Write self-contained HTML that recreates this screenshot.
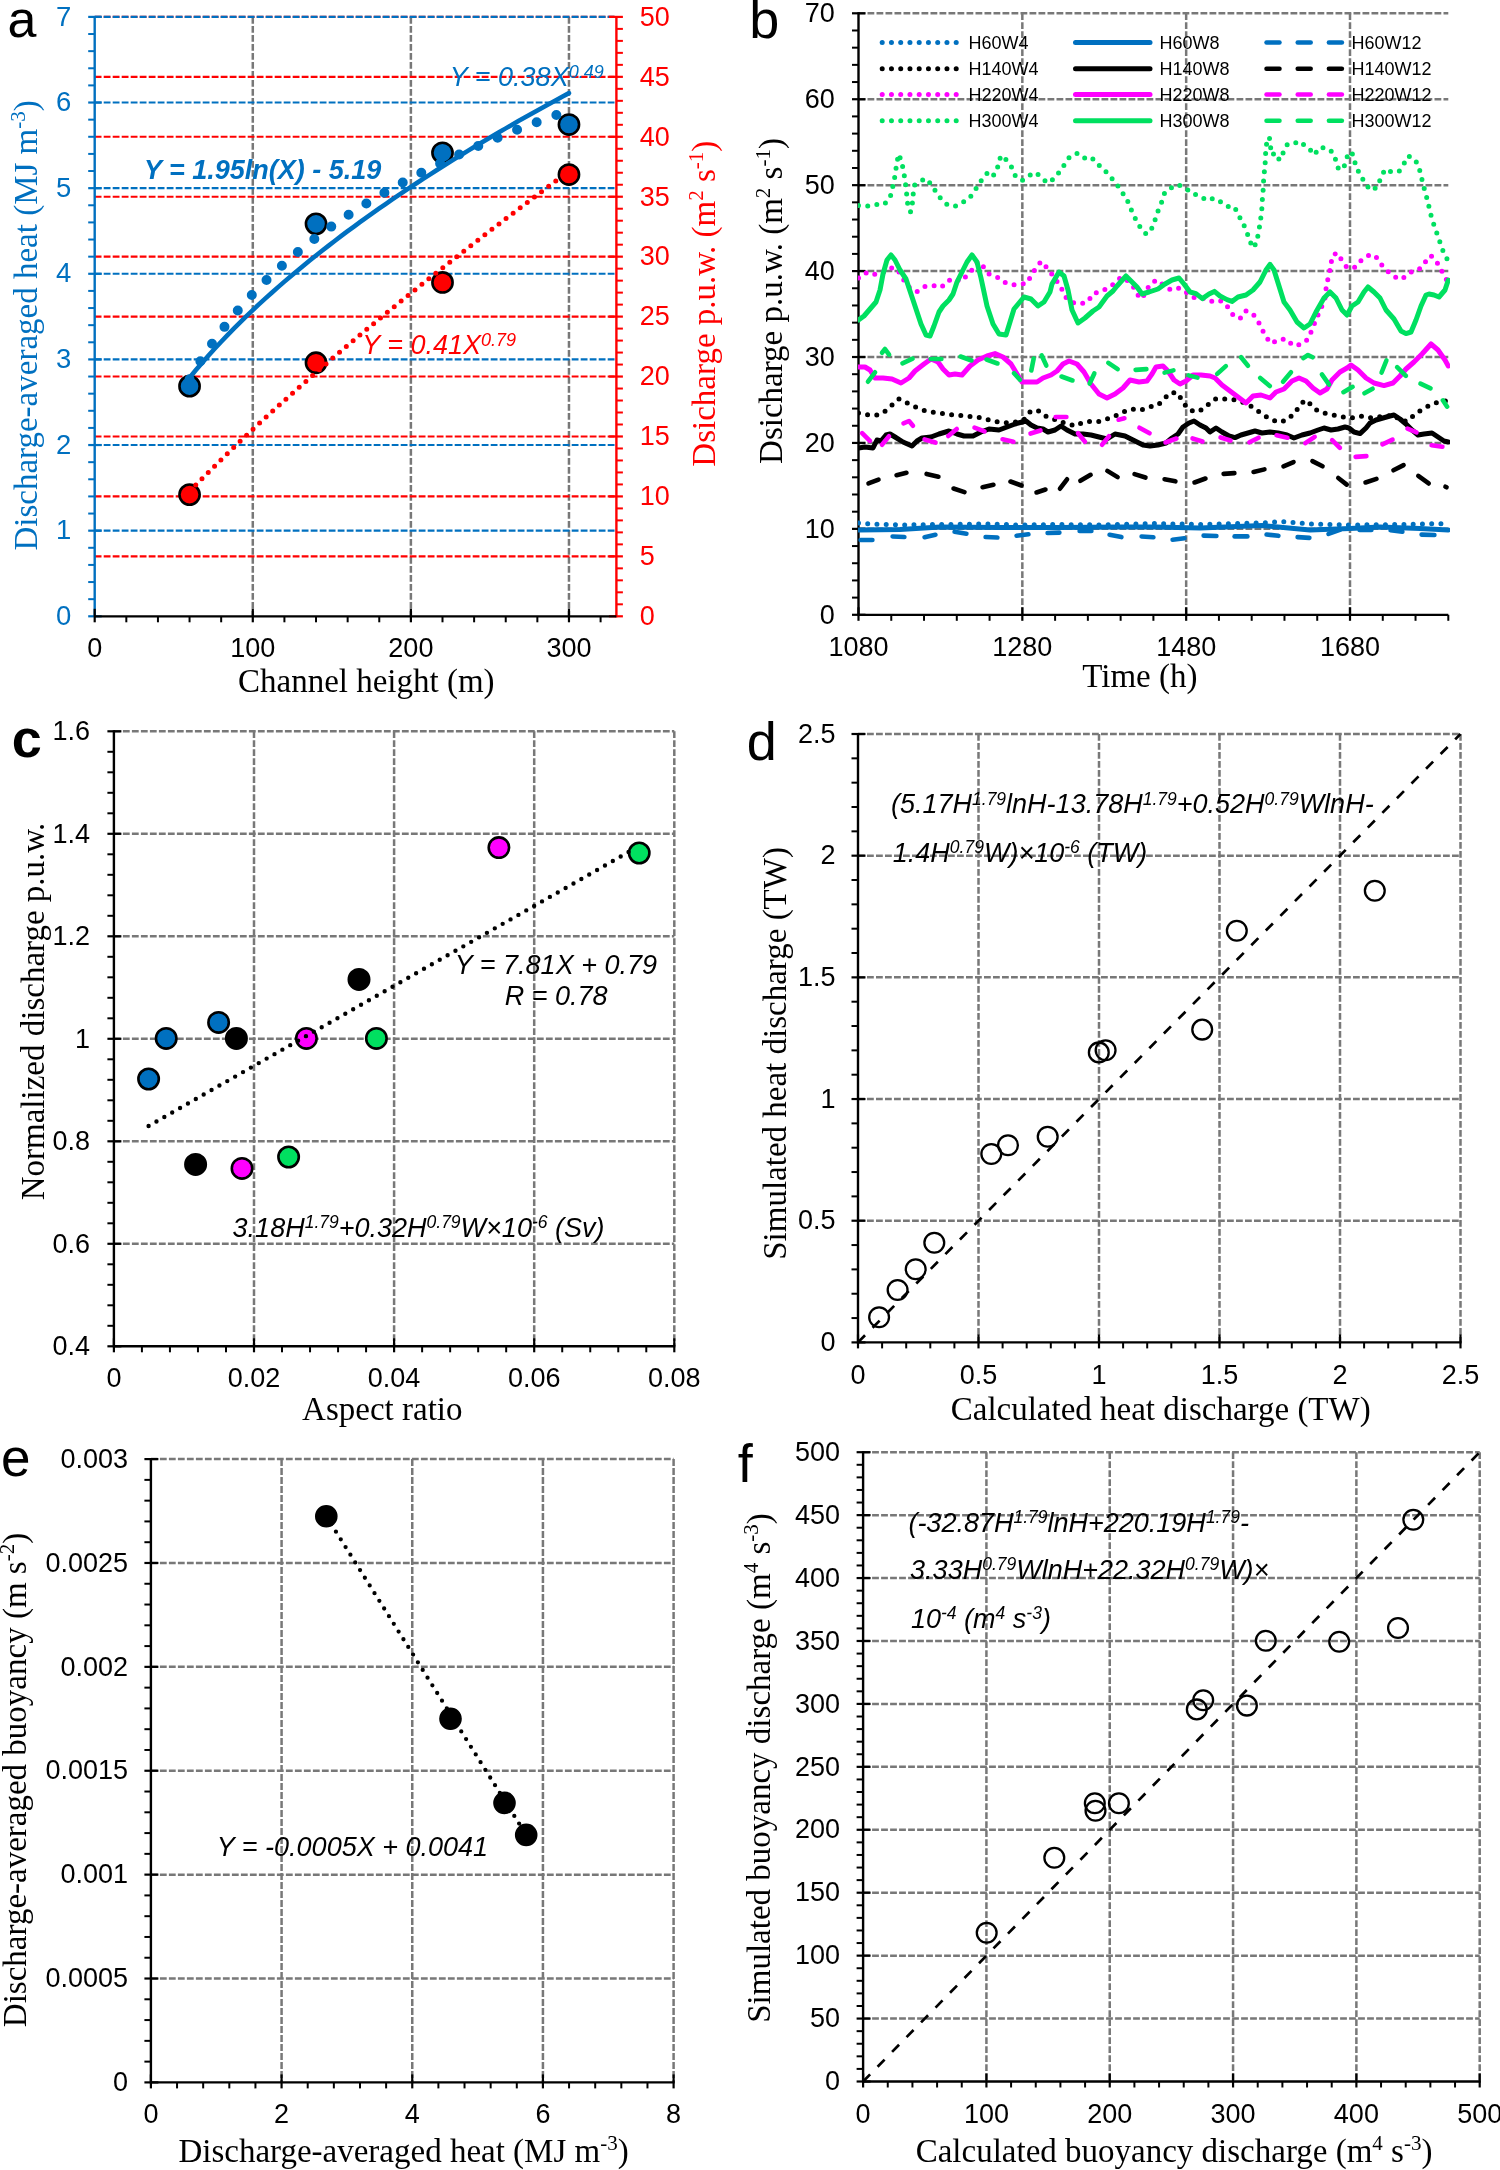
<!DOCTYPE html><html><head><meta charset="utf-8"><style>html,body{margin:0;padding:0;background:#fff;}svg{display:block;will-change:transform;}</style></head><body>
<svg width="1500" height="2170" viewBox="0 0 1500 2170">
<rect width="1500" height="2170" fill="#fff"/>
<line x1="252.79" y1="16.9" x2="252.79" y2="616.3" stroke="#787878" stroke-width="2.5" stroke-dasharray="6.8 2.2" stroke-linecap="butt"/>
<line x1="410.88" y1="16.9" x2="410.88" y2="616.3" stroke="#787878" stroke-width="2.5" stroke-dasharray="6.8 2.2" stroke-linecap="butt"/>
<line x1="568.97" y1="16.9" x2="568.97" y2="616.3" stroke="#787878" stroke-width="2.5" stroke-dasharray="6.8 2.2" stroke-linecap="butt"/>
<line x1="94.7" y1="556.36" x2="616.4" y2="556.36" stroke="#FF0000" stroke-width="2.1" stroke-dasharray="6.8 2.2" stroke-linecap="butt"/>
<line x1="94.7" y1="496.42" x2="616.4" y2="496.42" stroke="#FF0000" stroke-width="2.1" stroke-dasharray="6.8 2.2" stroke-linecap="butt"/>
<line x1="94.7" y1="436.48" x2="616.4" y2="436.48" stroke="#FF0000" stroke-width="2.1" stroke-dasharray="6.8 2.2" stroke-linecap="butt"/>
<line x1="94.7" y1="376.54" x2="616.4" y2="376.54" stroke="#FF0000" stroke-width="2.1" stroke-dasharray="6.8 2.2" stroke-linecap="butt"/>
<line x1="94.7" y1="316.6" x2="616.4" y2="316.6" stroke="#FF0000" stroke-width="2.1" stroke-dasharray="6.8 2.2" stroke-linecap="butt"/>
<line x1="94.7" y1="256.66" x2="616.4" y2="256.66" stroke="#FF0000" stroke-width="2.1" stroke-dasharray="6.8 2.2" stroke-linecap="butt"/>
<line x1="94.7" y1="196.72" x2="616.4" y2="196.72" stroke="#FF0000" stroke-width="2.1" stroke-dasharray="6.8 2.2" stroke-linecap="butt"/>
<line x1="94.7" y1="136.78" x2="616.4" y2="136.78" stroke="#FF0000" stroke-width="2.1" stroke-dasharray="6.8 2.2" stroke-linecap="butt"/>
<line x1="94.7" y1="76.84" x2="616.4" y2="76.84" stroke="#FF0000" stroke-width="2.1" stroke-dasharray="6.8 2.2" stroke-linecap="butt"/>
<line x1="94.7" y1="16.9" x2="616.4" y2="16.9" stroke="#FF0000" stroke-width="2.1" stroke-dasharray="6.8 2.2" stroke-linecap="butt"/>
<line x1="94.7" y1="530.67" x2="616.4" y2="530.67" stroke="#0070C0" stroke-width="2.1" stroke-dasharray="6.8 2.2" stroke-linecap="butt"/>
<line x1="94.7" y1="445.04" x2="616.4" y2="445.04" stroke="#0070C0" stroke-width="2.1" stroke-dasharray="6.8 2.2" stroke-linecap="butt"/>
<line x1="94.7" y1="359.41" x2="616.4" y2="359.41" stroke="#0070C0" stroke-width="2.1" stroke-dasharray="6.8 2.2" stroke-linecap="butt"/>
<line x1="94.7" y1="273.79" x2="616.4" y2="273.79" stroke="#0070C0" stroke-width="2.1" stroke-dasharray="6.8 2.2" stroke-linecap="butt"/>
<line x1="94.7" y1="188.16" x2="616.4" y2="188.16" stroke="#0070C0" stroke-width="2.1" stroke-dasharray="6.8 2.2" stroke-linecap="butt"/>
<line x1="94.7" y1="102.53" x2="616.4" y2="102.53" stroke="#0070C0" stroke-width="2.1" stroke-dasharray="6.8 2.2" stroke-linecap="butt"/>
<line x1="94.7" y1="16.9" x2="616.4" y2="16.9" stroke="#0070C0" stroke-width="2.1" stroke-dasharray="6.8 2.2" stroke-linecap="butt"/>
<line x1="94.7" y1="15.9" x2="94.7" y2="616.3" stroke="#0070C0" stroke-width="2.4" stroke-linecap="butt"/>
<line x1="616.4" y1="15.9" x2="616.4" y2="617.3" stroke="#FF0000" stroke-width="2.4" stroke-linecap="butt"/>
<line x1="88.2" y1="616.3" x2="101.7" y2="616.3" stroke="#0070C0" stroke-width="2.2" stroke-linecap="butt"/>
<line x1="88.2" y1="599.17" x2="94.7" y2="599.17" stroke="#0070C0" stroke-width="2" stroke-linecap="butt"/>
<line x1="88.2" y1="582.05" x2="94.7" y2="582.05" stroke="#0070C0" stroke-width="2" stroke-linecap="butt"/>
<line x1="88.2" y1="564.92" x2="94.7" y2="564.92" stroke="#0070C0" stroke-width="2" stroke-linecap="butt"/>
<line x1="88.2" y1="547.8" x2="94.7" y2="547.8" stroke="#0070C0" stroke-width="2" stroke-linecap="butt"/>
<line x1="88.2" y1="530.67" x2="101.7" y2="530.67" stroke="#0070C0" stroke-width="2.2" stroke-linecap="butt"/>
<line x1="88.2" y1="513.55" x2="94.7" y2="513.55" stroke="#0070C0" stroke-width="2" stroke-linecap="butt"/>
<line x1="88.2" y1="496.42" x2="94.7" y2="496.42" stroke="#0070C0" stroke-width="2" stroke-linecap="butt"/>
<line x1="88.2" y1="479.29" x2="94.7" y2="479.29" stroke="#0070C0" stroke-width="2" stroke-linecap="butt"/>
<line x1="88.2" y1="462.17" x2="94.7" y2="462.17" stroke="#0070C0" stroke-width="2" stroke-linecap="butt"/>
<line x1="88.2" y1="445.04" x2="101.7" y2="445.04" stroke="#0070C0" stroke-width="2.2" stroke-linecap="butt"/>
<line x1="88.2" y1="427.92" x2="94.7" y2="427.92" stroke="#0070C0" stroke-width="2" stroke-linecap="butt"/>
<line x1="88.2" y1="410.79" x2="94.7" y2="410.79" stroke="#0070C0" stroke-width="2" stroke-linecap="butt"/>
<line x1="88.2" y1="393.67" x2="94.7" y2="393.67" stroke="#0070C0" stroke-width="2" stroke-linecap="butt"/>
<line x1="88.2" y1="376.54" x2="94.7" y2="376.54" stroke="#0070C0" stroke-width="2" stroke-linecap="butt"/>
<line x1="88.2" y1="359.41" x2="101.7" y2="359.41" stroke="#0070C0" stroke-width="2.2" stroke-linecap="butt"/>
<line x1="88.2" y1="342.29" x2="94.7" y2="342.29" stroke="#0070C0" stroke-width="2" stroke-linecap="butt"/>
<line x1="88.2" y1="325.16" x2="94.7" y2="325.16" stroke="#0070C0" stroke-width="2" stroke-linecap="butt"/>
<line x1="88.2" y1="308.04" x2="94.7" y2="308.04" stroke="#0070C0" stroke-width="2" stroke-linecap="butt"/>
<line x1="88.2" y1="290.91" x2="94.7" y2="290.91" stroke="#0070C0" stroke-width="2" stroke-linecap="butt"/>
<line x1="88.2" y1="273.79" x2="101.7" y2="273.79" stroke="#0070C0" stroke-width="2.2" stroke-linecap="butt"/>
<line x1="88.2" y1="256.66" x2="94.7" y2="256.66" stroke="#0070C0" stroke-width="2" stroke-linecap="butt"/>
<line x1="88.2" y1="239.53" x2="94.7" y2="239.53" stroke="#0070C0" stroke-width="2" stroke-linecap="butt"/>
<line x1="88.2" y1="222.41" x2="94.7" y2="222.41" stroke="#0070C0" stroke-width="2" stroke-linecap="butt"/>
<line x1="88.2" y1="205.28" x2="94.7" y2="205.28" stroke="#0070C0" stroke-width="2" stroke-linecap="butt"/>
<line x1="88.2" y1="188.16" x2="101.7" y2="188.16" stroke="#0070C0" stroke-width="2.2" stroke-linecap="butt"/>
<line x1="88.2" y1="171.03" x2="94.7" y2="171.03" stroke="#0070C0" stroke-width="2" stroke-linecap="butt"/>
<line x1="88.2" y1="153.91" x2="94.7" y2="153.91" stroke="#0070C0" stroke-width="2" stroke-linecap="butt"/>
<line x1="88.2" y1="136.78" x2="94.7" y2="136.78" stroke="#0070C0" stroke-width="2" stroke-linecap="butt"/>
<line x1="88.2" y1="119.65" x2="94.7" y2="119.65" stroke="#0070C0" stroke-width="2" stroke-linecap="butt"/>
<line x1="88.2" y1="102.53" x2="101.7" y2="102.53" stroke="#0070C0" stroke-width="2.2" stroke-linecap="butt"/>
<line x1="88.2" y1="85.4" x2="94.7" y2="85.4" stroke="#0070C0" stroke-width="2" stroke-linecap="butt"/>
<line x1="88.2" y1="68.28" x2="94.7" y2="68.28" stroke="#0070C0" stroke-width="2" stroke-linecap="butt"/>
<line x1="88.2" y1="51.15" x2="94.7" y2="51.15" stroke="#0070C0" stroke-width="2" stroke-linecap="butt"/>
<line x1="88.2" y1="34.03" x2="94.7" y2="34.03" stroke="#0070C0" stroke-width="2" stroke-linecap="butt"/>
<line x1="88.2" y1="16.9" x2="101.7" y2="16.9" stroke="#0070C0" stroke-width="2.2" stroke-linecap="butt"/>
<line x1="608.9" y1="616.3" x2="622.9" y2="616.3" stroke="#FF0000" stroke-width="2.2" stroke-linecap="butt"/>
<line x1="616.4" y1="604.31" x2="622.9" y2="604.31" stroke="#FF0000" stroke-width="2" stroke-linecap="butt"/>
<line x1="616.4" y1="592.32" x2="622.9" y2="592.32" stroke="#FF0000" stroke-width="2" stroke-linecap="butt"/>
<line x1="616.4" y1="580.34" x2="622.9" y2="580.34" stroke="#FF0000" stroke-width="2" stroke-linecap="butt"/>
<line x1="616.4" y1="568.35" x2="622.9" y2="568.35" stroke="#FF0000" stroke-width="2" stroke-linecap="butt"/>
<line x1="608.9" y1="556.36" x2="622.9" y2="556.36" stroke="#FF0000" stroke-width="2.2" stroke-linecap="butt"/>
<line x1="616.4" y1="544.37" x2="622.9" y2="544.37" stroke="#FF0000" stroke-width="2" stroke-linecap="butt"/>
<line x1="616.4" y1="532.38" x2="622.9" y2="532.38" stroke="#FF0000" stroke-width="2" stroke-linecap="butt"/>
<line x1="616.4" y1="520.4" x2="622.9" y2="520.4" stroke="#FF0000" stroke-width="2" stroke-linecap="butt"/>
<line x1="616.4" y1="508.41" x2="622.9" y2="508.41" stroke="#FF0000" stroke-width="2" stroke-linecap="butt"/>
<line x1="608.9" y1="496.42" x2="622.9" y2="496.42" stroke="#FF0000" stroke-width="2.2" stroke-linecap="butt"/>
<line x1="616.4" y1="484.43" x2="622.9" y2="484.43" stroke="#FF0000" stroke-width="2" stroke-linecap="butt"/>
<line x1="616.4" y1="472.44" x2="622.9" y2="472.44" stroke="#FF0000" stroke-width="2" stroke-linecap="butt"/>
<line x1="616.4" y1="460.46" x2="622.9" y2="460.46" stroke="#FF0000" stroke-width="2" stroke-linecap="butt"/>
<line x1="616.4" y1="448.47" x2="622.9" y2="448.47" stroke="#FF0000" stroke-width="2" stroke-linecap="butt"/>
<line x1="608.9" y1="436.48" x2="622.9" y2="436.48" stroke="#FF0000" stroke-width="2.2" stroke-linecap="butt"/>
<line x1="616.4" y1="424.49" x2="622.9" y2="424.49" stroke="#FF0000" stroke-width="2" stroke-linecap="butt"/>
<line x1="616.4" y1="412.5" x2="622.9" y2="412.5" stroke="#FF0000" stroke-width="2" stroke-linecap="butt"/>
<line x1="616.4" y1="400.52" x2="622.9" y2="400.52" stroke="#FF0000" stroke-width="2" stroke-linecap="butt"/>
<line x1="616.4" y1="388.53" x2="622.9" y2="388.53" stroke="#FF0000" stroke-width="2" stroke-linecap="butt"/>
<line x1="608.9" y1="376.54" x2="622.9" y2="376.54" stroke="#FF0000" stroke-width="2.2" stroke-linecap="butt"/>
<line x1="616.4" y1="364.55" x2="622.9" y2="364.55" stroke="#FF0000" stroke-width="2" stroke-linecap="butt"/>
<line x1="616.4" y1="352.56" x2="622.9" y2="352.56" stroke="#FF0000" stroke-width="2" stroke-linecap="butt"/>
<line x1="616.4" y1="340.58" x2="622.9" y2="340.58" stroke="#FF0000" stroke-width="2" stroke-linecap="butt"/>
<line x1="616.4" y1="328.59" x2="622.9" y2="328.59" stroke="#FF0000" stroke-width="2" stroke-linecap="butt"/>
<line x1="608.9" y1="316.6" x2="622.9" y2="316.6" stroke="#FF0000" stroke-width="2.2" stroke-linecap="butt"/>
<line x1="616.4" y1="304.61" x2="622.9" y2="304.61" stroke="#FF0000" stroke-width="2" stroke-linecap="butt"/>
<line x1="616.4" y1="292.62" x2="622.9" y2="292.62" stroke="#FF0000" stroke-width="2" stroke-linecap="butt"/>
<line x1="616.4" y1="280.64" x2="622.9" y2="280.64" stroke="#FF0000" stroke-width="2" stroke-linecap="butt"/>
<line x1="616.4" y1="268.65" x2="622.9" y2="268.65" stroke="#FF0000" stroke-width="2" stroke-linecap="butt"/>
<line x1="608.9" y1="256.66" x2="622.9" y2="256.66" stroke="#FF0000" stroke-width="2.2" stroke-linecap="butt"/>
<line x1="616.4" y1="244.67" x2="622.9" y2="244.67" stroke="#FF0000" stroke-width="2" stroke-linecap="butt"/>
<line x1="616.4" y1="232.68" x2="622.9" y2="232.68" stroke="#FF0000" stroke-width="2" stroke-linecap="butt"/>
<line x1="616.4" y1="220.7" x2="622.9" y2="220.7" stroke="#FF0000" stroke-width="2" stroke-linecap="butt"/>
<line x1="616.4" y1="208.71" x2="622.9" y2="208.71" stroke="#FF0000" stroke-width="2" stroke-linecap="butt"/>
<line x1="608.9" y1="196.72" x2="622.9" y2="196.72" stroke="#FF0000" stroke-width="2.2" stroke-linecap="butt"/>
<line x1="616.4" y1="184.73" x2="622.9" y2="184.73" stroke="#FF0000" stroke-width="2" stroke-linecap="butt"/>
<line x1="616.4" y1="172.74" x2="622.9" y2="172.74" stroke="#FF0000" stroke-width="2" stroke-linecap="butt"/>
<line x1="616.4" y1="160.76" x2="622.9" y2="160.76" stroke="#FF0000" stroke-width="2" stroke-linecap="butt"/>
<line x1="616.4" y1="148.77" x2="622.9" y2="148.77" stroke="#FF0000" stroke-width="2" stroke-linecap="butt"/>
<line x1="608.9" y1="136.78" x2="622.9" y2="136.78" stroke="#FF0000" stroke-width="2.2" stroke-linecap="butt"/>
<line x1="616.4" y1="124.79" x2="622.9" y2="124.79" stroke="#FF0000" stroke-width="2" stroke-linecap="butt"/>
<line x1="616.4" y1="112.8" x2="622.9" y2="112.8" stroke="#FF0000" stroke-width="2" stroke-linecap="butt"/>
<line x1="616.4" y1="100.82" x2="622.9" y2="100.82" stroke="#FF0000" stroke-width="2" stroke-linecap="butt"/>
<line x1="616.4" y1="88.83" x2="622.9" y2="88.83" stroke="#FF0000" stroke-width="2" stroke-linecap="butt"/>
<line x1="608.9" y1="76.84" x2="622.9" y2="76.84" stroke="#FF0000" stroke-width="2.2" stroke-linecap="butt"/>
<line x1="616.4" y1="64.85" x2="622.9" y2="64.85" stroke="#FF0000" stroke-width="2" stroke-linecap="butt"/>
<line x1="616.4" y1="52.86" x2="622.9" y2="52.86" stroke="#FF0000" stroke-width="2" stroke-linecap="butt"/>
<line x1="616.4" y1="40.88" x2="622.9" y2="40.88" stroke="#FF0000" stroke-width="2" stroke-linecap="butt"/>
<line x1="616.4" y1="28.89" x2="622.9" y2="28.89" stroke="#FF0000" stroke-width="2" stroke-linecap="butt"/>
<line x1="608.9" y1="16.9" x2="622.9" y2="16.9" stroke="#FF0000" stroke-width="2.2" stroke-linecap="butt"/>
<line x1="94.7" y1="608.8" x2="94.7" y2="622.3" stroke="#000000" stroke-width="2.2" stroke-linecap="butt"/>
<line x1="126.32" y1="616.3" x2="126.32" y2="622.3" stroke="#000000" stroke-width="2" stroke-linecap="butt"/>
<line x1="157.94" y1="616.3" x2="157.94" y2="622.3" stroke="#000000" stroke-width="2" stroke-linecap="butt"/>
<line x1="189.55" y1="616.3" x2="189.55" y2="622.3" stroke="#000000" stroke-width="2" stroke-linecap="butt"/>
<line x1="221.17" y1="616.3" x2="221.17" y2="622.3" stroke="#000000" stroke-width="2" stroke-linecap="butt"/>
<line x1="252.79" y1="608.8" x2="252.79" y2="622.3" stroke="#000000" stroke-width="2.2" stroke-linecap="butt"/>
<line x1="284.41" y1="616.3" x2="284.41" y2="622.3" stroke="#000000" stroke-width="2" stroke-linecap="butt"/>
<line x1="316.03" y1="616.3" x2="316.03" y2="622.3" stroke="#000000" stroke-width="2" stroke-linecap="butt"/>
<line x1="347.65" y1="616.3" x2="347.65" y2="622.3" stroke="#000000" stroke-width="2" stroke-linecap="butt"/>
<line x1="379.26" y1="616.3" x2="379.26" y2="622.3" stroke="#000000" stroke-width="2" stroke-linecap="butt"/>
<line x1="410.88" y1="608.8" x2="410.88" y2="622.3" stroke="#000000" stroke-width="2.2" stroke-linecap="butt"/>
<line x1="442.5" y1="616.3" x2="442.5" y2="622.3" stroke="#000000" stroke-width="2" stroke-linecap="butt"/>
<line x1="474.12" y1="616.3" x2="474.12" y2="622.3" stroke="#000000" stroke-width="2" stroke-linecap="butt"/>
<line x1="505.74" y1="616.3" x2="505.74" y2="622.3" stroke="#000000" stroke-width="2" stroke-linecap="butt"/>
<line x1="537.35" y1="616.3" x2="537.35" y2="622.3" stroke="#000000" stroke-width="2" stroke-linecap="butt"/>
<line x1="568.97" y1="608.8" x2="568.97" y2="622.3" stroke="#000000" stroke-width="2.2" stroke-linecap="butt"/>
<line x1="600.59" y1="616.3" x2="600.59" y2="622.3" stroke="#000000" stroke-width="2" stroke-linecap="butt"/>
<line x1="94.7" y1="616.3" x2="616.4" y2="616.3" stroke="#000000" stroke-width="2.2" stroke-linecap="butt"/>
<text x="71.4" y="624.9" font-family="Liberation Sans" font-size="27.5" fill="#0070C0" text-anchor="end">0</text>
<text x="71.4" y="539.27" font-family="Liberation Sans" font-size="27.5" fill="#0070C0" text-anchor="end">1</text>
<text x="71.4" y="453.64" font-family="Liberation Sans" font-size="27.5" fill="#0070C0" text-anchor="end">2</text>
<text x="71.4" y="368.01" font-family="Liberation Sans" font-size="27.5" fill="#0070C0" text-anchor="end">3</text>
<text x="71.4" y="282.39" font-family="Liberation Sans" font-size="27.5" fill="#0070C0" text-anchor="end">4</text>
<text x="71.4" y="196.76" font-family="Liberation Sans" font-size="27.5" fill="#0070C0" text-anchor="end">5</text>
<text x="71.4" y="111.13" font-family="Liberation Sans" font-size="27.5" fill="#0070C0" text-anchor="end">6</text>
<text x="71.4" y="25.5" font-family="Liberation Sans" font-size="27.5" fill="#0070C0" text-anchor="end">7</text>
<text x="639.8" y="625.1" font-family="Liberation Sans" font-size="27" fill="#FF0000" text-anchor="start">0</text>
<text x="639.8" y="565.16" font-family="Liberation Sans" font-size="27" fill="#FF0000" text-anchor="start">5</text>
<text x="639.8" y="505.22" font-family="Liberation Sans" font-size="27" fill="#FF0000" text-anchor="start">10</text>
<text x="639.8" y="445.28" font-family="Liberation Sans" font-size="27" fill="#FF0000" text-anchor="start">15</text>
<text x="639.8" y="385.34" font-family="Liberation Sans" font-size="27" fill="#FF0000" text-anchor="start">20</text>
<text x="639.8" y="325.4" font-family="Liberation Sans" font-size="27" fill="#FF0000" text-anchor="start">25</text>
<text x="639.8" y="265.46" font-family="Liberation Sans" font-size="27" fill="#FF0000" text-anchor="start">30</text>
<text x="639.8" y="205.52" font-family="Liberation Sans" font-size="27" fill="#FF0000" text-anchor="start">35</text>
<text x="639.8" y="145.58" font-family="Liberation Sans" font-size="27" fill="#FF0000" text-anchor="start">40</text>
<text x="639.8" y="85.64" font-family="Liberation Sans" font-size="27" fill="#FF0000" text-anchor="start">45</text>
<text x="639.8" y="25.7" font-family="Liberation Sans" font-size="27" fill="#FF0000" text-anchor="start">50</text>
<text x="94.7" y="656.6" font-family="Liberation Sans" font-size="27" fill="#000000" text-anchor="middle">0</text>
<text x="252.79" y="656.6" font-family="Liberation Sans" font-size="27" fill="#000000" text-anchor="middle">100</text>
<text x="410.88" y="656.6" font-family="Liberation Sans" font-size="27" fill="#000000" text-anchor="middle">200</text>
<text x="568.97" y="656.6" font-family="Liberation Sans" font-size="27" fill="#000000" text-anchor="middle">300</text>
<text x="366.3" y="692" font-family="Liberation Serif" font-size="33" fill="#000000" text-anchor="middle">Channel height (m)</text>
<text x="37" y="325.4" font-family="Liberation Serif" font-size="33" fill="#0070C0" text-anchor="middle" transform="rotate(-90 37 325.4)">Discharge-averaged heat (MJ m<tspan dy="-12" font-size="21">-3</tspan><tspan dy="12">)</tspan></text>
<text x="714.8" y="303.7" font-family="Liberation Serif" font-size="33" fill="#FF0000" text-anchor="middle" transform="rotate(-90 714.8 303.7)">Dsicharge p.u.w. (m<tspan dy="-12" font-size="21">2</tspan><tspan dy="12"> s</tspan><tspan dy="-12" font-size="21">-1</tspan><tspan dy="12">)</tspan></text>
<text x="7.5" y="36.8" font-family="Liberation Sans" font-size="52" fill="#000000" text-anchor="start">a</text>
<circle cx="189.55" cy="386.13" r="10.1" fill="#0070C0" stroke="#000000" stroke-width="2.6"/>
<circle cx="316.03" cy="223.86" r="10.1" fill="#0070C0" stroke="#000000" stroke-width="2.6"/>
<circle cx="442.5" cy="152.79" r="10.1" fill="#0070C0" stroke="#000000" stroke-width="2.6"/>
<circle cx="568.97" cy="124.54" r="10.1" fill="#0070C0" stroke="#000000" stroke-width="2.6"/>
<circle cx="189.55" cy="494.62" r="10.1" fill="#FF0000" stroke="#000000" stroke-width="2.6"/>
<circle cx="316.03" cy="362.75" r="10.1" fill="#FF0000" stroke="#000000" stroke-width="2.6"/>
<circle cx="442.5" cy="282.43" r="10.1" fill="#FF0000" stroke="#000000" stroke-width="2.6"/>
<circle cx="568.97" cy="174.54" r="10.1" fill="#FF0000" stroke="#000000" stroke-width="2.6"/>
<polyline points="189.55,491.48 195.88,484.96 202.2,478.51 208.53,472.15 214.85,465.86 221.17,459.64 227.5,453.48 233.82,447.38 240.14,441.35 246.47,435.36 252.79,429.43 259.11,423.55 265.44,417.72 271.76,411.93 278.09,406.19 284.41,400.48 290.73,394.82 297.06,389.2 303.38,383.61 309.7,378.05 316.03,372.53 322.35,367.05 328.67,361.6 335,356.17 341.32,350.78 347.65,345.41 353.97,340.08 360.29,334.77 366.62,329.49 372.94,324.23 379.26,319 385.59,313.79 391.91,308.61 398.23,303.45 404.56,298.31 410.88,293.19 417.21,288.1 423.53,283.03 429.85,277.97 436.18,272.94 442.5,267.93 448.82,262.93 455.15,257.96 461.47,253 467.79,248.06 474.12,243.14 480.44,238.23 486.77,233.35 493.09,228.47 499.41,223.62 505.74,218.78 512.06,213.96 518.38,209.15 524.71,204.35 531.03,199.58 537.35,194.81 543.68,190.06 550,185.33 556.33,180.6 562.65,175.9 568.97,171.2" fill="none" stroke="#FF0000" stroke-width="5" stroke-dasharray="0 8.9" stroke-linecap="round" stroke-linejoin="round"/>
<polyline points="189.55,377.7 195.88,370.06 202.2,362.66 208.53,355.48 214.85,348.5 221.17,341.71 227.5,335.09 233.82,328.63 240.14,322.32 246.47,316.14 252.79,310.1 259.11,304.19 265.44,298.39 271.76,292.69 278.09,287.11 284.41,281.62 290.73,276.22 297.06,270.91 303.38,265.69 309.7,260.54 316.03,255.48 322.35,250.49 328.67,245.57 335,240.71 341.32,235.92 347.65,231.2 353.97,226.54 360.29,221.93 366.62,217.38 372.94,212.88 379.26,208.44 385.59,204.04 391.91,199.7 398.23,195.4 404.56,191.15 410.88,186.94 417.21,182.78 423.53,178.65 429.85,174.57 436.18,170.53 442.5,166.52 448.82,162.56 455.15,158.63 461.47,154.73 467.79,150.87 474.12,147.04 480.44,143.25 486.77,139.48 493.09,135.75 499.41,132.05 505.74,128.38 512.06,124.73 518.38,121.12 524.71,117.53 531.03,113.97 537.35,110.43 543.68,106.93 550,103.44 556.33,99.99 562.65,96.55 568.97,93.14" fill="none" stroke="#0070C0" stroke-width="4.6" stroke-linecap="round" stroke-linejoin="round"/>
<polyline points="189.55,379.2 192.72,373.72 195.88,368.42 199.04,363.28 202.2,358.3 205.36,353.46 208.53,348.75 211.69,344.18 214.85,339.73 218.01,335.39 221.17,331.16 224.33,327.04 227.5,323.01 230.66,319.09 233.82,315.25 236.98,311.49 240.14,307.82 243.31,304.23 246.47,300.72 249.63,297.27 252.79,293.9 255.95,290.59 259.11,287.35 262.28,284.17 265.44,281.05 268.6,277.99 271.76,274.98 274.92,272.02 278.09,269.12 281.25,266.26 284.41,263.46 287.57,260.7 290.73,257.98 293.89,255.31 297.06,252.68 300.22,250.09 303.38,247.54 306.54,245.03 309.7,242.56 312.87,240.12 316.03,237.72 319.19,235.35 322.35,233.01 325.51,230.71 328.67,228.44 331.84,226.2 335,223.99 338.16,221.8 341.32,219.65 344.48,217.52 347.65,215.42 350.81,213.35 353.97,211.3 357.13,209.28 360.29,207.28 363.45,205.3 366.62,203.35 369.78,201.42 372.94,199.51 376.1,197.62 379.26,195.76 382.43,193.91 385.59,192.09 388.75,190.28 391.91,188.49 395.07,186.73 398.23,184.98 401.4,183.25 404.56,181.54 407.72,179.84 410.88,178.16 414.04,176.5 417.21,174.86 420.37,173.23 423.53,171.61 426.69,170.02 429.85,168.43 433.01,166.87 436.18,165.31 439.34,163.77 442.5,162.25 445.66,160.74 448.82,159.24 451.99,157.76 455.15,156.28 458.31,154.83 461.47,153.38 464.63,151.95 467.79,150.53 470.96,149.12 474.12,147.72 477.28,146.33 480.44,144.96 483.6,143.6 486.77,142.24 489.93,140.9 493.09,139.57 496.25,138.25 499.41,136.94 502.57,135.64 505.74,134.35 508.9,133.07 512.06,131.8 515.22,130.54 518.38,129.29 521.55,128.05 524.71,126.82 527.87,125.6 531.03,124.38 534.19,123.18 537.35,121.98 540.52,120.79 543.68,119.61 546.84,118.44 550,117.28 553.16,116.12 556.33,114.97 559.49,113.83 562.65,112.7 565.81,111.58 568.97,110.46" fill="none" stroke="#0070C0" stroke-width="10" stroke-dasharray="0 21" stroke-linecap="round" stroke-linejoin="round"/>
<text x="143.9" y="179.2" font-family="Liberation Sans" font-size="27" fill="#0070C0" text-anchor="start" font-style="italic" font-weight="bold">Y = 1.95ln(X) - 5.19</text>
<text x="449.8" y="85.6" font-family="Liberation Sans" font-size="27" fill="#0070C0" text-anchor="start" font-style="italic">Y = 0.38X<tspan dy="-8" font-size="18">0.49</tspan></text>
<text x="362.2" y="354.2" font-family="Liberation Sans" font-size="27" fill="#FF0000" text-anchor="start" font-style="italic">Y = 0.41X<tspan dy="-8" font-size="18">0.79</tspan></text>
<line x1="1022.33" y1="13.3" x2="1022.33" y2="614.8" stroke="#787878" stroke-width="2.5" stroke-dasharray="6.8 2.2" stroke-linecap="butt"/>
<line x1="1186.17" y1="13.3" x2="1186.17" y2="614.8" stroke="#787878" stroke-width="2.5" stroke-dasharray="6.8 2.2" stroke-linecap="butt"/>
<line x1="1350" y1="13.3" x2="1350" y2="614.8" stroke="#787878" stroke-width="2.5" stroke-dasharray="6.8 2.2" stroke-linecap="butt"/>
<line x1="858.5" y1="528.87" x2="1448.3" y2="528.87" stroke="#787878" stroke-width="2.5" stroke-dasharray="6.8 2.2" stroke-linecap="butt"/>
<line x1="858.5" y1="442.94" x2="1448.3" y2="442.94" stroke="#787878" stroke-width="2.5" stroke-dasharray="6.8 2.2" stroke-linecap="butt"/>
<line x1="858.5" y1="357.01" x2="1448.3" y2="357.01" stroke="#787878" stroke-width="2.5" stroke-dasharray="6.8 2.2" stroke-linecap="butt"/>
<line x1="858.5" y1="271.09" x2="1448.3" y2="271.09" stroke="#787878" stroke-width="2.5" stroke-dasharray="6.8 2.2" stroke-linecap="butt"/>
<line x1="858.5" y1="185.16" x2="1448.3" y2="185.16" stroke="#787878" stroke-width="2.5" stroke-dasharray="6.8 2.2" stroke-linecap="butt"/>
<line x1="858.5" y1="99.23" x2="1448.3" y2="99.23" stroke="#787878" stroke-width="2.5" stroke-dasharray="6.8 2.2" stroke-linecap="butt"/>
<line x1="858.5" y1="13.3" x2="1448.3" y2="13.3" stroke="#787878" stroke-width="2.5" stroke-dasharray="6.8 2.2" stroke-linecap="butt"/>
<line x1="858.5" y1="12.3" x2="858.5" y2="615.8" stroke="#000000" stroke-width="2.4" stroke-linecap="butt"/>
<line x1="858.5" y1="614.8" x2="1448.3" y2="614.8" stroke="#000000" stroke-width="2.2" stroke-linecap="butt"/>
<line x1="852" y1="614.8" x2="865.5" y2="614.8" stroke="#000000" stroke-width="2.2" stroke-linecap="butt"/>
<line x1="852" y1="597.61" x2="858.5" y2="597.61" stroke="#000000" stroke-width="2" stroke-linecap="butt"/>
<line x1="852" y1="580.43" x2="858.5" y2="580.43" stroke="#000000" stroke-width="2" stroke-linecap="butt"/>
<line x1="852" y1="563.24" x2="858.5" y2="563.24" stroke="#000000" stroke-width="2" stroke-linecap="butt"/>
<line x1="852" y1="546.06" x2="858.5" y2="546.06" stroke="#000000" stroke-width="2" stroke-linecap="butt"/>
<line x1="852" y1="528.87" x2="865.5" y2="528.87" stroke="#000000" stroke-width="2.2" stroke-linecap="butt"/>
<line x1="852" y1="511.69" x2="858.5" y2="511.69" stroke="#000000" stroke-width="2" stroke-linecap="butt"/>
<line x1="852" y1="494.5" x2="858.5" y2="494.5" stroke="#000000" stroke-width="2" stroke-linecap="butt"/>
<line x1="852" y1="477.31" x2="858.5" y2="477.31" stroke="#000000" stroke-width="2" stroke-linecap="butt"/>
<line x1="852" y1="460.13" x2="858.5" y2="460.13" stroke="#000000" stroke-width="2" stroke-linecap="butt"/>
<line x1="852" y1="442.94" x2="865.5" y2="442.94" stroke="#000000" stroke-width="2.2" stroke-linecap="butt"/>
<line x1="852" y1="425.76" x2="858.5" y2="425.76" stroke="#000000" stroke-width="2" stroke-linecap="butt"/>
<line x1="852" y1="408.57" x2="858.5" y2="408.57" stroke="#000000" stroke-width="2" stroke-linecap="butt"/>
<line x1="852" y1="391.39" x2="858.5" y2="391.39" stroke="#000000" stroke-width="2" stroke-linecap="butt"/>
<line x1="852" y1="374.2" x2="858.5" y2="374.2" stroke="#000000" stroke-width="2" stroke-linecap="butt"/>
<line x1="852" y1="357.01" x2="865.5" y2="357.01" stroke="#000000" stroke-width="2.2" stroke-linecap="butt"/>
<line x1="852" y1="339.83" x2="858.5" y2="339.83" stroke="#000000" stroke-width="2" stroke-linecap="butt"/>
<line x1="852" y1="322.64" x2="858.5" y2="322.64" stroke="#000000" stroke-width="2" stroke-linecap="butt"/>
<line x1="852" y1="305.46" x2="858.5" y2="305.46" stroke="#000000" stroke-width="2" stroke-linecap="butt"/>
<line x1="852" y1="288.27" x2="858.5" y2="288.27" stroke="#000000" stroke-width="2" stroke-linecap="butt"/>
<line x1="852" y1="271.09" x2="865.5" y2="271.09" stroke="#000000" stroke-width="2.2" stroke-linecap="butt"/>
<line x1="852" y1="253.9" x2="858.5" y2="253.9" stroke="#000000" stroke-width="2" stroke-linecap="butt"/>
<line x1="852" y1="236.71" x2="858.5" y2="236.71" stroke="#000000" stroke-width="2" stroke-linecap="butt"/>
<line x1="852" y1="219.53" x2="858.5" y2="219.53" stroke="#000000" stroke-width="2" stroke-linecap="butt"/>
<line x1="852" y1="202.34" x2="858.5" y2="202.34" stroke="#000000" stroke-width="2" stroke-linecap="butt"/>
<line x1="852" y1="185.16" x2="865.5" y2="185.16" stroke="#000000" stroke-width="2.2" stroke-linecap="butt"/>
<line x1="852" y1="167.97" x2="858.5" y2="167.97" stroke="#000000" stroke-width="2" stroke-linecap="butt"/>
<line x1="852" y1="150.79" x2="858.5" y2="150.79" stroke="#000000" stroke-width="2" stroke-linecap="butt"/>
<line x1="852" y1="133.6" x2="858.5" y2="133.6" stroke="#000000" stroke-width="2" stroke-linecap="butt"/>
<line x1="852" y1="116.41" x2="858.5" y2="116.41" stroke="#000000" stroke-width="2" stroke-linecap="butt"/>
<line x1="852" y1="99.23" x2="865.5" y2="99.23" stroke="#000000" stroke-width="2.2" stroke-linecap="butt"/>
<line x1="852" y1="82.04" x2="858.5" y2="82.04" stroke="#000000" stroke-width="2" stroke-linecap="butt"/>
<line x1="852" y1="64.86" x2="858.5" y2="64.86" stroke="#000000" stroke-width="2" stroke-linecap="butt"/>
<line x1="852" y1="47.67" x2="858.5" y2="47.67" stroke="#000000" stroke-width="2" stroke-linecap="butt"/>
<line x1="852" y1="30.49" x2="858.5" y2="30.49" stroke="#000000" stroke-width="2" stroke-linecap="butt"/>
<line x1="852" y1="13.3" x2="865.5" y2="13.3" stroke="#000000" stroke-width="2.2" stroke-linecap="butt"/>
<line x1="858.5" y1="607.3" x2="858.5" y2="620.8" stroke="#000000" stroke-width="2.2" stroke-linecap="butt"/>
<line x1="891.27" y1="614.8" x2="891.27" y2="620.8" stroke="#000000" stroke-width="2" stroke-linecap="butt"/>
<line x1="924.03" y1="614.8" x2="924.03" y2="620.8" stroke="#000000" stroke-width="2" stroke-linecap="butt"/>
<line x1="956.8" y1="614.8" x2="956.8" y2="620.8" stroke="#000000" stroke-width="2" stroke-linecap="butt"/>
<line x1="989.57" y1="614.8" x2="989.57" y2="620.8" stroke="#000000" stroke-width="2" stroke-linecap="butt"/>
<line x1="1022.33" y1="607.3" x2="1022.33" y2="620.8" stroke="#000000" stroke-width="2.2" stroke-linecap="butt"/>
<line x1="1055.1" y1="614.8" x2="1055.1" y2="620.8" stroke="#000000" stroke-width="2" stroke-linecap="butt"/>
<line x1="1087.87" y1="614.8" x2="1087.87" y2="620.8" stroke="#000000" stroke-width="2" stroke-linecap="butt"/>
<line x1="1120.63" y1="614.8" x2="1120.63" y2="620.8" stroke="#000000" stroke-width="2" stroke-linecap="butt"/>
<line x1="1153.4" y1="614.8" x2="1153.4" y2="620.8" stroke="#000000" stroke-width="2" stroke-linecap="butt"/>
<line x1="1186.17" y1="607.3" x2="1186.17" y2="620.8" stroke="#000000" stroke-width="2.2" stroke-linecap="butt"/>
<line x1="1218.93" y1="614.8" x2="1218.93" y2="620.8" stroke="#000000" stroke-width="2" stroke-linecap="butt"/>
<line x1="1251.7" y1="614.8" x2="1251.7" y2="620.8" stroke="#000000" stroke-width="2" stroke-linecap="butt"/>
<line x1="1284.47" y1="614.8" x2="1284.47" y2="620.8" stroke="#000000" stroke-width="2" stroke-linecap="butt"/>
<line x1="1317.23" y1="614.8" x2="1317.23" y2="620.8" stroke="#000000" stroke-width="2" stroke-linecap="butt"/>
<line x1="1350" y1="607.3" x2="1350" y2="620.8" stroke="#000000" stroke-width="2.2" stroke-linecap="butt"/>
<line x1="1382.77" y1="614.8" x2="1382.77" y2="620.8" stroke="#000000" stroke-width="2" stroke-linecap="butt"/>
<line x1="1415.53" y1="614.8" x2="1415.53" y2="620.8" stroke="#000000" stroke-width="2" stroke-linecap="butt"/>
<line x1="1448.3" y1="614.8" x2="1448.3" y2="620.8" stroke="#000000" stroke-width="2" stroke-linecap="butt"/>
<text x="834.7" y="623.5" font-family="Liberation Sans" font-size="27" fill="#000000" text-anchor="end">0</text>
<text x="834.7" y="537.57" font-family="Liberation Sans" font-size="27" fill="#000000" text-anchor="end">10</text>
<text x="834.7" y="451.64" font-family="Liberation Sans" font-size="27" fill="#000000" text-anchor="end">20</text>
<text x="834.7" y="365.71" font-family="Liberation Sans" font-size="27" fill="#000000" text-anchor="end">30</text>
<text x="834.7" y="279.79" font-family="Liberation Sans" font-size="27" fill="#000000" text-anchor="end">40</text>
<text x="834.7" y="193.86" font-family="Liberation Sans" font-size="27" fill="#000000" text-anchor="end">50</text>
<text x="834.7" y="107.93" font-family="Liberation Sans" font-size="27" fill="#000000" text-anchor="end">60</text>
<text x="834.7" y="22" font-family="Liberation Sans" font-size="27" fill="#000000" text-anchor="end">70</text>
<text x="858.5" y="655.5" font-family="Liberation Sans" font-size="27" fill="#000000" text-anchor="middle">1080</text>
<text x="1022.33" y="655.5" font-family="Liberation Sans" font-size="27" fill="#000000" text-anchor="middle">1280</text>
<text x="1186.17" y="655.5" font-family="Liberation Sans" font-size="27" fill="#000000" text-anchor="middle">1480</text>
<text x="1350" y="655.5" font-family="Liberation Sans" font-size="27" fill="#000000" text-anchor="middle">1680</text>
<text x="1139.9" y="687" font-family="Liberation Serif" font-size="33" fill="#000000" text-anchor="middle">Time (h)</text>
<text x="781.5" y="301" font-family="Liberation Serif" font-size="33" fill="#000000" text-anchor="middle" transform="rotate(-90 781.5 301)">Dsicharge p.u.w. (m<tspan dy="-12" font-size="21">2</tspan><tspan dy="12"> s</tspan><tspan dy="-12" font-size="21">-1</tspan><tspan dy="12">)</tspan></text>
<text x="749.3" y="38" font-family="Liberation Sans" font-size="54" fill="#000000" text-anchor="start">b</text>
<defs><clipPath id="clipb"><rect x="858" y="10" width="592" height="606"/></clipPath></defs>
<g clip-path="url(#clipb)">
<polyline points="858.5,523 870,524 900,525 940,524.5 985,524 1020,525 1060,524.5 1100,525 1155,523.5 1200,524.5 1260,523 1282,521.5 1310,524 1350,525 1400,524.5 1448.3,523.5" fill="none" stroke="#0070C0" stroke-width="5" stroke-dasharray="0 9.25" stroke-linecap="round" stroke-linejoin="round"/>
<polyline points="858.5,413 860,413 869,415 878,415 886,410.6 892.6,404.6 899,399 907,403 914.4,406.6 922.6,410 931,412 940,413 949,414.4 958,415.4 967,416 975,417 983.6,418 992,421 1000,422 1008.6,423 1016,422 1024,419.6 1030,412 1037.4,410 1044,415.6 1052,418 1059,422 1067,423 1075,426 1083,422.4 1090,421.4 1099,421.6 1107,419 1115,416 1123,412 1132,409 1141,410 1149,407 1158,405 1164,399 1170,393 1177,392.4 1182,400 1187,408 1194.4,412 1202.4,409.6 1209.4,403.6 1216,398.6 1224.4,399 1232.4,399.4 1240.4,401 1249,405 1256.4,410 1264,415.4 1271.4,419.6 1279,422.4 1287,420 1293.6,414 1299,407 1304.6,400 1311,404.6 1317.6,411 1325.4,413.4 1333.6,415 1343,417 1351,418 1360,416 1369,418 1378,417 1386,416 1394,415 1401,421 1408,421 1415,414 1422.4,409.4 1430,405 1438,402 1445,401 1448.3,401" fill="none" stroke="#000000" stroke-width="5" stroke-dasharray="0 9.25" stroke-linecap="round" stroke-linejoin="round"/>
<polyline points="858.5,278 860,277.6 867.4,272 875.6,274.4 883,272.4 890,268 896.6,268.4 901.4,275.6 906,284 911,289 917,291.6 924.4,286.6 933,285.6 941.4,287.4 947.4,281 954,278.6 961,281.4 967,275.4 973,269 978,261.4 983.6,267 989,274 996.6,276.6 1003.6,282 1012,285 1020,284 1026.4,283.6 1031,276 1035.6,268.4 1041.2,261.4 1047.2,268 1053,275.6 1058,283 1062.6,290.6 1066.6,298.6 1074.6,303.2 1082,303.6 1088.4,301.4 1092.4,294 1100.6,291.6 1108,288 1115,283 1121,277 1128,281 1133,286 1137,294 1142,299 1146,291 1150.6,283.6 1157,280 1164,285.6 1171,290 1179.6,288 1186.4,292.4 1193.6,297.6 1202,298 1210,301.6 1217.6,300 1224.4,302.4 1229.6,309.6 1234.4,317 1241.2,318 1246,311 1252.6,313.6 1258,321 1261.6,328.6 1266,337 1271.4,343.6 1278.4,339.6 1286.6,339 1293,345.6 1301,344.4 1307.6,339.4 1311,332 1314.4,323.6 1318,315 1321.6,307 1325,298 1326,289 1327.6,280.4 1329.6,272 1331,263 1333.4,254.4 1338,253.2 1342,261 1347.4,268 1355.2,267.2 1361,260.6 1368,255.6 1375,255.2 1379.6,262.4 1385.4,269.4 1392,274.6 1399,279.4 1406.4,276.4 1413.2,270.4 1419.4,269 1425.2,262 1430.8,255.4 1436.4,261.4 1441,269.4 1445,277.6 1448.3,282" fill="none" stroke="#FF00FF" stroke-width="5" stroke-dasharray="0 9.25" stroke-linecap="round" stroke-linejoin="round"/>
<polyline points="858.5,205.6 861,205.6 869,206 876.6,204.4 884,204.4 890,198 892.2,189.2 894.2,180.4 895.6,171.6 896.8,162.6 898.8,154 901.6,162 903.6,171 905,180 906.2,189 907,198 908,206.6 910.6,212 912.4,203 913.2,194 914.4,185.2 918.6,182.6 925.4,178.4 931.6,184.6 936.2,192.2 941.2,199.2 947.6,205 955,206.4 961.6,202.8 968.4,199.2 973.8,192.4 978.4,184.6 983.2,178.2 988.6,171.6 993.2,175.4 997,171.2 998.4,162.4 1001.2,155.4 1007,160.6 1012.2,168 1015.6,176.4 1022.2,180.4 1029,175.6 1035.6,172.4 1041,177.2 1047.6,183 1054.2,178.6 1059.6,171.6 1064.6,164.4 1069.6,156.8 1077,153.4 1083.6,158.2 1091.2,157 1096.6,163.6 1103.4,168.6 1108.8,175.4 1114.8,181.6 1120.2,189.2 1125,196.6 1129.4,204.4 1132.2,212.4 1136.6,221 1141,228.6 1146.4,234.4 1152,228 1155,220 1158,211 1161.4,203 1164,194 1170,188.4 1177.6,184.6 1185.6,188 1192,193.6 1199.6,195.6 1206.8,200.4 1214.4,198.2 1220.4,201.6 1227.4,206.4 1234.4,206.6 1238.4,215 1242.8,222.6 1246.4,231 1249.4,239.4 1252.6,248 1256.6,243 1258.2,234 1259.8,225.2 1261,216.4 1262,207.2 1262.4,198.4 1263.2,189.4 1263.6,180.4 1264.4,171.4 1265.2,162.6 1265.6,153.6 1266.4,144.6 1269.4,137 1270.4,145.6 1271.6,154.8 1276,153 1279.4,160 1283,153 1286.8,144.8 1293,144.6 1298.2,141 1304.4,145 1309.2,148.6 1314.4,155 1319.2,147.8 1326.2,147.8 1331.8,151.6 1335.6,159.6 1338,168 1343,169.6 1346,161 1348.6,152 1352.6,154 1355,162.6 1358.2,171 1362.6,179 1367.4,186.6 1372.8,190.6 1378,185.6 1381,177 1385.2,169.2 1391.4,172 1399,171.4 1403.8,164 1408.4,156 1415,159.4 1419,167.4 1421.2,176.4 1423.2,184.6 1425.6,193.6 1428,202 1429.8,211 1432.2,219.6 1435,228 1438.2,236.8 1441,245.2 1444,253.6 1448.3,261" fill="none" stroke="#00E060" stroke-width="5" stroke-dasharray="0 9.25" stroke-linecap="round" stroke-linejoin="round"/>
<polyline points="858.5,530 900,529.5 940,527 1000,527.5 1060,527.5 1120,527 1155,527 1200,528 1262,525.6 1310,530 1350,528.4 1380,527 1420,528.5 1448.3,530" fill="none" stroke="#0070C0" stroke-width="5" stroke-linecap="round" stroke-linejoin="round"/>
<polyline points="858.5,448 865,447 873,448 877,440 881,441 886,435 890,434 895,437 903,442 912,446 917,441 922,438 931,437 939,434 949,431 957,434 964,436 973,436 981,432 989,429 999,430 1007,427 1015,424 1022,422 1026,421 1031,425 1037,428 1043,429 1048,432 1055,430 1061,426 1067,430 1075,434 1083,434 1091,435 1099,437 1107,439 1115,434 1125,436 1135,441 1143,445 1150,446 1158,445 1166,443 1172,438 1178,434 1183,427 1189,423 1194,421 1200,425 1206,428 1210,432 1216,428 1222,432 1229,436 1235,437.6 1241,435 1248,433 1255,431 1262,433 1270,432 1278,433 1287,435 1294,438 1302,435 1310,433 1318,430 1324,428 1331,430 1338,429 1345,427 1349,428 1354,432 1360,433.6 1366,428 1370,423 1376,420 1383,418 1390,416 1394,415 1400,419 1406,424 1412,430 1418,435 1424,434 1432,433 1438,437 1444,441 1448.3,442" fill="none" stroke="#000000" stroke-width="5" stroke-linecap="round" stroke-linejoin="round"/>
<polyline points="858.5,367 865,367 870,370 875,378 883,378 892,379 901,383 909,378 915,371 924,364 931,359 938,362 943,369 949,375 955,374 962,375 970,366 978,360 987,356 995,353.6 1003,357 1011,364 1017,374 1022,382 1029,382 1037,382 1043,378 1051,375 1057,371 1063,364 1069,361 1077,364 1084,372 1091,384 1099,394 1107,398 1115,394 1123,388 1130,380 1139,382 1147,381 1152,374 1156,367 1163,366 1168,371 1174,380 1180,384 1186,381 1193,375 1201,375 1210,376 1215,378 1222,385 1230,391 1238,397 1246,403 1253,396 1261,395 1270,398 1276,392 1284,389 1292,381 1299,378 1306,381 1313,388 1320,393 1327,389 1332,380 1340,372 1347,368 1351,365 1358,370 1366,378 1374,383 1384,385.6 1393,383 1400,376 1406,369 1414,362 1422,354 1431,344 1438,350 1445,360 1448.3,366" fill="none" stroke="#FF00FF" stroke-width="5" stroke-linecap="round" stroke-linejoin="round"/>
<polyline points="858.5,320 864,316 870,309 876,302 880,290 883,274 887,260 891,255 895,260 900,270 906,279 911,294 917,312 921,324 926,335 930,336 934,326 939,312 943,306 949,300 953,294 957,282 963,270 967,262 972,255 977,262 981,278 987,306 993,324 999,334 1006,335 1010,322 1014,309 1019,303 1024,297 1031,299 1038,306 1044,302 1050,292 1052,284 1059,272 1064,276 1068,290 1072,310 1078,323 1085,318 1093,311 1099,307 1107,296 1113,291 1117,286 1126,276 1133,283 1137,287 1142,294 1149,292 1158,289 1165,284 1172,280 1179,278 1184,284 1190,292 1196,293.6 1202.4,298.6 1209,294 1214.4,291.4 1220,296 1227,299.6 1232,301.4 1238,297 1246,295 1253,290 1260,282 1266,270 1270,264.4 1274,270 1279,286 1284,302 1290,310 1297,322 1304,328 1310,324 1316,312 1324,298 1330,292 1336,298 1342,310 1347,315 1352,306 1358,302 1364,292 1368,287 1374,292 1380,298 1386,310 1394,319 1401,331 1406,333.6 1411,332 1416,320 1421,306 1426,295 1429,294 1434,295 1439,297 1445,290 1448.3,280" fill="none" stroke="#00E060" stroke-width="5" stroke-linecap="round" stroke-linejoin="round"/>
<polyline points="860.6,540 872.4,540" fill="none" stroke="#0070C0" stroke-width="4.6" stroke-linecap="round" stroke-linejoin="round"/>
<polyline points="892.6,536.46 904.4,536.94" fill="none" stroke="#0070C0" stroke-width="4.6" stroke-linecap="round" stroke-linejoin="round"/>
<polyline points="924.56,537.24 935.44,534.76" fill="none" stroke="#0070C0" stroke-width="4.6" stroke-linecap="round" stroke-linejoin="round"/>
<polyline points="954.58,531.85 966.42,533.75" fill="none" stroke="#0070C0" stroke-width="4.6" stroke-linecap="round" stroke-linejoin="round"/>
<polyline points="985.6,537.06 997.4,537.54" fill="none" stroke="#0070C0" stroke-width="4.6" stroke-linecap="round" stroke-linejoin="round"/>
<polyline points="1016.59,535.79 1028.41,534.21" fill="none" stroke="#0070C0" stroke-width="4.6" stroke-linecap="round" stroke-linejoin="round"/>
<polyline points="1047.6,532.96 1059.4,532.64" fill="none" stroke="#0070C0" stroke-width="4.6" stroke-linecap="round" stroke-linejoin="round"/>
<polyline points="1079.6,531 1091.4,531" fill="none" stroke="#0070C0" stroke-width="4.6" stroke-linecap="round" stroke-linejoin="round"/>
<polyline points="1109.57,534.71 1121.43,537.09" fill="none" stroke="#0070C0" stroke-width="4.6" stroke-linecap="round" stroke-linejoin="round"/>
<polyline points="1141.6,536.51 1153.4,537.29" fill="none" stroke="#0070C0" stroke-width="4.6" stroke-linecap="round" stroke-linejoin="round"/>
<polyline points="1172.59,539.79 1184.41,538.21" fill="none" stroke="#0070C0" stroke-width="4.6" stroke-linecap="round" stroke-linejoin="round"/>
<polyline points="1203.6,535.64 1216.4,535.96" fill="none" stroke="#0070C0" stroke-width="4.6" stroke-linecap="round" stroke-linejoin="round"/>
<polyline points="1234.6,536.4 1247.4,536.4" fill="none" stroke="#0070C0" stroke-width="4.6" stroke-linecap="round" stroke-linejoin="round"/>
<polyline points="1266.59,534.57 1278.41,535.83" fill="none" stroke="#0070C0" stroke-width="4.6" stroke-linecap="round" stroke-linejoin="round"/>
<polyline points="1297.6,537.11 1309.4,537.89" fill="none" stroke="#0070C0" stroke-width="4.6" stroke-linecap="round" stroke-linejoin="round"/>
<polyline points="1328.51,533.86 1340.49,529.54" fill="none" stroke="#0070C0" stroke-width="4.6" stroke-linecap="round" stroke-linejoin="round"/>
<polyline points="1359.6,530 1371.4,530" fill="none" stroke="#0070C0" stroke-width="4.6" stroke-linecap="round" stroke-linejoin="round"/>
<polyline points="1390.59,530.21 1402.41,531.79" fill="none" stroke="#0070C0" stroke-width="4.6" stroke-linecap="round" stroke-linejoin="round"/>
<polyline points="1421.6,534.64 1434.4,534.96" fill="none" stroke="#0070C0" stroke-width="4.6" stroke-linecap="round" stroke-linejoin="round"/>
<polyline points="868.49,483.43 878.51,479.57" fill="none" stroke="#000000" stroke-width="4.6" stroke-linecap="round" stroke-linejoin="round"/>
<polyline points="896.55,475.22 906.45,472.78" fill="none" stroke="#000000" stroke-width="4.6" stroke-linecap="round" stroke-linejoin="round"/>
<polyline points="926.56,473.95 938.44,476.65" fill="none" stroke="#000000" stroke-width="4.6" stroke-linecap="round" stroke-linejoin="round"/>
<polyline points="953.52,488.5 964.48,492.1" fill="none" stroke="#000000" stroke-width="4.6" stroke-linecap="round" stroke-linejoin="round"/>
<polyline points="982.56,487.24 993.44,484.76" fill="none" stroke="#000000" stroke-width="4.6" stroke-linecap="round" stroke-linejoin="round"/>
<polyline points="1010.51,481.54 1021.49,485.46" fill="none" stroke="#000000" stroke-width="4.6" stroke-linecap="round" stroke-linejoin="round"/>
<polyline points="1036.52,492.49 1045.48,489.51" fill="none" stroke="#000000" stroke-width="4.6" stroke-linecap="round" stroke-linejoin="round"/>
<polyline points="1059.96,488.72 1067.04,479.28" fill="none" stroke="#000000" stroke-width="4.6" stroke-linecap="round" stroke-linejoin="round"/>
<polyline points="1080.38,480.79 1090.62,474.81" fill="none" stroke="#000000" stroke-width="4.6" stroke-linecap="round" stroke-linejoin="round"/>
<polyline points="1107.36,470.84 1117.64,477.16" fill="none" stroke="#000000" stroke-width="4.6" stroke-linecap="round" stroke-linejoin="round"/>
<polyline points="1134.53,474.08 1145.47,477.52" fill="none" stroke="#000000" stroke-width="4.6" stroke-linecap="round" stroke-linejoin="round"/>
<polyline points="1164.57,479.29 1175.43,481.31" fill="none" stroke="#000000" stroke-width="4.6" stroke-linecap="round" stroke-linejoin="round"/>
<polyline points="1194.51,482.46 1205.49,478.54" fill="none" stroke="#000000" stroke-width="4.6" stroke-linecap="round" stroke-linejoin="round"/>
<polyline points="1223.6,473.89 1234.4,473.11" fill="none" stroke="#000000" stroke-width="4.6" stroke-linecap="round" stroke-linejoin="round"/>
<polyline points="1253.55,472.02 1264.45,469.38" fill="none" stroke="#000000" stroke-width="4.6" stroke-linecap="round" stroke-linejoin="round"/>
<polyline points="1283.47,466.37 1293.53,462.03" fill="none" stroke="#000000" stroke-width="4.6" stroke-linecap="round" stroke-linejoin="round"/>
<polyline points="1312.43,461.12 1322.57,466.28" fill="none" stroke="#000000" stroke-width="4.6" stroke-linecap="round" stroke-linejoin="round"/>
<polyline points="1338.26,477.99 1346.74,484.61" fill="none" stroke="#000000" stroke-width="4.6" stroke-linecap="round" stroke-linejoin="round"/>
<polyline points="1365.52,482.5 1376.48,478.9" fill="none" stroke="#000000" stroke-width="4.6" stroke-linecap="round" stroke-linejoin="round"/>
<polyline points="1393.43,470.28 1403.57,465.12" fill="none" stroke="#000000" stroke-width="4.6" stroke-linecap="round" stroke-linejoin="round"/>
<polyline points="1418.3,475.94 1428.7,483.46" fill="none" stroke="#000000" stroke-width="4.6" stroke-linecap="round" stroke-linejoin="round"/>
<polyline points="1445.43,486.72 1446.57,487.28" fill="none" stroke="#000000" stroke-width="4.6" stroke-linecap="round" stroke-linejoin="round"/>
<polyline points="862.13,433.13 869.87,440.87" fill="none" stroke="#FF00FF" stroke-width="4.6" stroke-linecap="round" stroke-linejoin="round"/>
<polyline points="882.01,444.76 888.99,436.24" fill="none" stroke="#FF00FF" stroke-width="4.6" stroke-linecap="round" stroke-linejoin="round"/>
<polyline points="903.47,423.37 909,421 912.98,425.77" fill="none" stroke="#FF00FF" stroke-width="4.6" stroke-linecap="round" stroke-linejoin="round"/>
<polyline points="924.54,439.44 935.46,442.56" fill="none" stroke="#FF00FF" stroke-width="4.6" stroke-linecap="round" stroke-linejoin="round"/>
<polyline points="948.24,435.99 956.76,429.01" fill="none" stroke="#FF00FF" stroke-width="4.6" stroke-linecap="round" stroke-linejoin="round"/>
<polyline points="974.49,427.57 984.51,431.43" fill="none" stroke="#FF00FF" stroke-width="4.6" stroke-linecap="round" stroke-linejoin="round"/>
<polyline points="1002.56,439.34 1013.44,441.66" fill="none" stroke="#FF00FF" stroke-width="4.6" stroke-linecap="round" stroke-linejoin="round"/>
<polyline points="1030.53,433.53 1040.47,430.47" fill="none" stroke="#FF00FF" stroke-width="4.6" stroke-linecap="round" stroke-linejoin="round"/>
<polyline points="1055.6,417 1066.4,417" fill="none" stroke="#FF00FF" stroke-width="4.6" stroke-linecap="round" stroke-linejoin="round"/>
<polyline points="1078.01,433.24 1084.99,441.76" fill="none" stroke="#FF00FF" stroke-width="4.6" stroke-linecap="round" stroke-linejoin="round"/>
<polyline points="1102.01,444.76 1108.99,436.24" fill="none" stroke="#FF00FF" stroke-width="4.6" stroke-linecap="round" stroke-linejoin="round"/>
<polyline points="1118.56,419.65 1124.44,418.35" fill="none" stroke="#FF00FF" stroke-width="4.6" stroke-linecap="round" stroke-linejoin="round"/>
<polyline points="1139.41,427.76 1149.59,433.24" fill="none" stroke="#FF00FF" stroke-width="4.6" stroke-linecap="round" stroke-linejoin="round"/>
<polyline points="1165.51,442.46 1176.49,438.54" fill="none" stroke="#FF00FF" stroke-width="4.6" stroke-linecap="round" stroke-linejoin="round"/>
<polyline points="1192.53,438.47 1202.47,441.53" fill="none" stroke="#FF00FF" stroke-width="4.6" stroke-linecap="round" stroke-linejoin="round"/>
<polyline points="1220.53,437.47 1230.47,440.53" fill="none" stroke="#FF00FF" stroke-width="4.6" stroke-linecap="round" stroke-linejoin="round"/>
<polyline points="1249.43,442.28 1258.57,437.72" fill="none" stroke="#FF00FF" stroke-width="4.6" stroke-linecap="round" stroke-linejoin="round"/>
<polyline points="1276.56,435.34 1287.44,437.66" fill="none" stroke="#FF00FF" stroke-width="4.6" stroke-linecap="round" stroke-linejoin="round"/>
<polyline points="1305.33,443.11 1314.67,436.89" fill="none" stroke="#FF00FF" stroke-width="4.6" stroke-linecap="round" stroke-linejoin="round"/>
<polyline points="1332.13,440.13 1339.87,447.87" fill="none" stroke="#FF00FF" stroke-width="4.6" stroke-linecap="round" stroke-linejoin="round"/>
<polyline points="1355.6,456.89 1366.4,456.11" fill="none" stroke="#FF00FF" stroke-width="4.6" stroke-linecap="round" stroke-linejoin="round"/>
<polyline points="1382.45,444.33 1392.55,439.67" fill="none" stroke="#FF00FF" stroke-width="4.6" stroke-linecap="round" stroke-linejoin="round"/>
<polyline points="1407.48,428.62 1416.52,432.38" fill="none" stroke="#FF00FF" stroke-width="4.6" stroke-linecap="round" stroke-linejoin="round"/>
<polyline points="1431.58,445.23 1442.42,446.77" fill="none" stroke="#FF00FF" stroke-width="4.6" stroke-linecap="round" stroke-linejoin="round"/>
<polyline points="867.96,381.72 875.04,372.28" fill="none" stroke="#00E060" stroke-width="4.6" stroke-linecap="round" stroke-linejoin="round"/>
<polyline points="882,352.75 885,349 889.07,354.7" fill="none" stroke="#00E060" stroke-width="4.6" stroke-linecap="round" stroke-linejoin="round"/>
<polyline points="902.45,363.33 912.55,358.67" fill="none" stroke="#00E060" stroke-width="4.6" stroke-linecap="round" stroke-linejoin="round"/>
<polyline points="930.6,359 941.4,359" fill="none" stroke="#00E060" stroke-width="4.6" stroke-linecap="round" stroke-linejoin="round"/>
<polyline points="960.51,356.54 971.49,360.46" fill="none" stroke="#00E060" stroke-width="4.6" stroke-linecap="round" stroke-linejoin="round"/>
<polyline points="986.51,359.54 997.49,363.46" fill="none" stroke="#00E060" stroke-width="4.6" stroke-linecap="round" stroke-linejoin="round"/>
<polyline points="1014.06,373.2 1019.94,379.8" fill="none" stroke="#00E060" stroke-width="4.6" stroke-linecap="round" stroke-linejoin="round"/>
<polyline points="1031.31,370.43 1033.69,358.57" fill="none" stroke="#00E060" stroke-width="4.6" stroke-linecap="round" stroke-linejoin="round"/>
<polyline points="1041.67,355.45 1046.33,365.55" fill="none" stroke="#00E060" stroke-width="4.6" stroke-linecap="round" stroke-linejoin="round"/>
<polyline points="1061.51,376.54 1072.49,380.46" fill="none" stroke="#00E060" stroke-width="4.6" stroke-linecap="round" stroke-linejoin="round"/>
<polyline points="1089.67,383.55 1094.33,373.45" fill="none" stroke="#00E060" stroke-width="4.6" stroke-linecap="round" stroke-linejoin="round"/>
<polyline points="1108.33,362.89 1117.67,369.11" fill="none" stroke="#00E060" stroke-width="4.6" stroke-linecap="round" stroke-linejoin="round"/>
<polyline points="1135.6,369.89 1146.4,369.11" fill="none" stroke="#00E060" stroke-width="4.6" stroke-linecap="round" stroke-linejoin="round"/>
<polyline points="1164.55,372.61 1173.45,370.39" fill="none" stroke="#00E060" stroke-width="4.6" stroke-linecap="round" stroke-linejoin="round"/>
<polyline points="1188.55,375.39 1197.45,377.61" fill="none" stroke="#00E060" stroke-width="4.6" stroke-linecap="round" stroke-linejoin="round"/>
<polyline points="1217.18,373.92 1225.82,366.08" fill="none" stroke="#00E060" stroke-width="4.6" stroke-linecap="round" stroke-linejoin="round"/>
<polyline points="1241.01,357.24 1247.99,365.76" fill="none" stroke="#00E060" stroke-width="4.6" stroke-linecap="round" stroke-linejoin="round"/>
<polyline points="1260.23,378.02 1269.77,385.98" fill="none" stroke="#00E060" stroke-width="4.6" stroke-linecap="round" stroke-linejoin="round"/>
<polyline points="1283.02,381.77 1290.98,372.23" fill="none" stroke="#00E060" stroke-width="4.6" stroke-linecap="round" stroke-linejoin="round"/>
<polyline points="1303.33,358.11 1308,355 1312.57,357.28" fill="none" stroke="#00E060" stroke-width="4.6" stroke-linecap="round" stroke-linejoin="round"/>
<polyline points="1321.91,374.32 1329.09,384.68" fill="none" stroke="#00E060" stroke-width="4.6" stroke-linecap="round" stroke-linejoin="round"/>
<polyline points="1343.38,392.19 1352.62,386.81" fill="none" stroke="#00E060" stroke-width="4.6" stroke-linecap="round" stroke-linejoin="round"/>
<polyline points="1364.4,393.23 1372.6,388.77" fill="none" stroke="#00E060" stroke-width="4.6" stroke-linecap="round" stroke-linejoin="round"/>
<polyline points="1381.59,372.51 1386.41,360.49" fill="none" stroke="#00E060" stroke-width="4.6" stroke-linecap="round" stroke-linejoin="round"/>
<polyline points="1397.13,367.13 1405.87,375.87" fill="none" stroke="#00E060" stroke-width="4.6" stroke-linecap="round" stroke-linejoin="round"/>
<polyline points="1420.45,383.67 1430.55,388.33" fill="none" stroke="#00E060" stroke-width="4.6" stroke-linecap="round" stroke-linejoin="round"/>
<polyline points="1442.89,400.33 1447.11,406.67" fill="none" stroke="#00E060" stroke-width="4.6" stroke-linecap="round" stroke-linejoin="round"/>
</g>
<circle cx="882.2" cy="42.6" r="2.5" fill="#0070C0"/>
<circle cx="891.45" cy="42.6" r="2.5" fill="#0070C0"/>
<circle cx="900.7" cy="42.6" r="2.5" fill="#0070C0"/>
<circle cx="909.95" cy="42.6" r="2.5" fill="#0070C0"/>
<circle cx="919.2" cy="42.6" r="2.5" fill="#0070C0"/>
<circle cx="928.45" cy="42.6" r="2.5" fill="#0070C0"/>
<circle cx="937.7" cy="42.6" r="2.5" fill="#0070C0"/>
<circle cx="946.95" cy="42.6" r="2.5" fill="#0070C0"/>
<circle cx="956.2" cy="42.6" r="2.5" fill="#0070C0"/>
<line x1="1075.5" y1="42.6" x2="1150" y2="42.6" stroke="#0070C0" stroke-width="5" stroke-linecap="round"/>
<line x1="1266.5" y1="42.6" x2="1279.5" y2="42.6" stroke="#0070C0" stroke-width="4.5" stroke-linecap="round"/>
<line x1="1297.7" y1="42.6" x2="1310.7" y2="42.6" stroke="#0070C0" stroke-width="4.5" stroke-linecap="round"/>
<line x1="1328.9" y1="42.6" x2="1341.9" y2="42.6" stroke="#0070C0" stroke-width="4.5" stroke-linecap="round"/>
<text x="968.5" y="48.8" font-family="Liberation Sans" font-size="18" fill="#000000" text-anchor="start">H60W4</text>
<text x="1159.5" y="48.8" font-family="Liberation Sans" font-size="18" fill="#000000" text-anchor="start">H60W8</text>
<text x="1351.5" y="48.8" font-family="Liberation Sans" font-size="18" fill="#000000" text-anchor="start">H60W12</text>
<circle cx="882.2" cy="68.7" r="2.5" fill="#000000"/>
<circle cx="891.45" cy="68.7" r="2.5" fill="#000000"/>
<circle cx="900.7" cy="68.7" r="2.5" fill="#000000"/>
<circle cx="909.95" cy="68.7" r="2.5" fill="#000000"/>
<circle cx="919.2" cy="68.7" r="2.5" fill="#000000"/>
<circle cx="928.45" cy="68.7" r="2.5" fill="#000000"/>
<circle cx="937.7" cy="68.7" r="2.5" fill="#000000"/>
<circle cx="946.95" cy="68.7" r="2.5" fill="#000000"/>
<circle cx="956.2" cy="68.7" r="2.5" fill="#000000"/>
<line x1="1075.5" y1="68.7" x2="1150" y2="68.7" stroke="#000000" stroke-width="5" stroke-linecap="round"/>
<line x1="1266.5" y1="68.7" x2="1279.5" y2="68.7" stroke="#000000" stroke-width="4.5" stroke-linecap="round"/>
<line x1="1297.7" y1="68.7" x2="1310.7" y2="68.7" stroke="#000000" stroke-width="4.5" stroke-linecap="round"/>
<line x1="1328.9" y1="68.7" x2="1341.9" y2="68.7" stroke="#000000" stroke-width="4.5" stroke-linecap="round"/>
<text x="968.5" y="74.9" font-family="Liberation Sans" font-size="18" fill="#000000" text-anchor="start">H140W4</text>
<text x="1159.5" y="74.9" font-family="Liberation Sans" font-size="18" fill="#000000" text-anchor="start">H140W8</text>
<text x="1351.5" y="74.9" font-family="Liberation Sans" font-size="18" fill="#000000" text-anchor="start">H140W12</text>
<circle cx="882.2" cy="94.6" r="2.5" fill="#FF00FF"/>
<circle cx="891.45" cy="94.6" r="2.5" fill="#FF00FF"/>
<circle cx="900.7" cy="94.6" r="2.5" fill="#FF00FF"/>
<circle cx="909.95" cy="94.6" r="2.5" fill="#FF00FF"/>
<circle cx="919.2" cy="94.6" r="2.5" fill="#FF00FF"/>
<circle cx="928.45" cy="94.6" r="2.5" fill="#FF00FF"/>
<circle cx="937.7" cy="94.6" r="2.5" fill="#FF00FF"/>
<circle cx="946.95" cy="94.6" r="2.5" fill="#FF00FF"/>
<circle cx="956.2" cy="94.6" r="2.5" fill="#FF00FF"/>
<line x1="1075.5" y1="94.6" x2="1150" y2="94.6" stroke="#FF00FF" stroke-width="5" stroke-linecap="round"/>
<line x1="1266.5" y1="94.6" x2="1279.5" y2="94.6" stroke="#FF00FF" stroke-width="4.5" stroke-linecap="round"/>
<line x1="1297.7" y1="94.6" x2="1310.7" y2="94.6" stroke="#FF00FF" stroke-width="4.5" stroke-linecap="round"/>
<line x1="1328.9" y1="94.6" x2="1341.9" y2="94.6" stroke="#FF00FF" stroke-width="4.5" stroke-linecap="round"/>
<text x="968.5" y="100.8" font-family="Liberation Sans" font-size="18" fill="#000000" text-anchor="start">H220W4</text>
<text x="1159.5" y="100.8" font-family="Liberation Sans" font-size="18" fill="#000000" text-anchor="start">H220W8</text>
<text x="1351.5" y="100.8" font-family="Liberation Sans" font-size="18" fill="#000000" text-anchor="start">H220W12</text>
<circle cx="882.2" cy="120.7" r="2.5" fill="#00E060"/>
<circle cx="891.45" cy="120.7" r="2.5" fill="#00E060"/>
<circle cx="900.7" cy="120.7" r="2.5" fill="#00E060"/>
<circle cx="909.95" cy="120.7" r="2.5" fill="#00E060"/>
<circle cx="919.2" cy="120.7" r="2.5" fill="#00E060"/>
<circle cx="928.45" cy="120.7" r="2.5" fill="#00E060"/>
<circle cx="937.7" cy="120.7" r="2.5" fill="#00E060"/>
<circle cx="946.95" cy="120.7" r="2.5" fill="#00E060"/>
<circle cx="956.2" cy="120.7" r="2.5" fill="#00E060"/>
<line x1="1075.5" y1="120.7" x2="1150" y2="120.7" stroke="#00E060" stroke-width="5" stroke-linecap="round"/>
<line x1="1266.5" y1="120.7" x2="1279.5" y2="120.7" stroke="#00E060" stroke-width="4.5" stroke-linecap="round"/>
<line x1="1297.7" y1="120.7" x2="1310.7" y2="120.7" stroke="#00E060" stroke-width="4.5" stroke-linecap="round"/>
<line x1="1328.9" y1="120.7" x2="1341.9" y2="120.7" stroke="#00E060" stroke-width="4.5" stroke-linecap="round"/>
<text x="968.5" y="126.9" font-family="Liberation Sans" font-size="18" fill="#000000" text-anchor="start">H300W4</text>
<text x="1159.5" y="126.9" font-family="Liberation Sans" font-size="18" fill="#000000" text-anchor="start">H300W8</text>
<text x="1351.5" y="126.9" font-family="Liberation Sans" font-size="18" fill="#000000" text-anchor="start">H300W12</text>
<line x1="254" y1="731.3" x2="254" y2="1346.3" stroke="#787878" stroke-width="2.5" stroke-dasharray="6.8 2.2" stroke-linecap="butt"/>
<line x1="394.1" y1="731.3" x2="394.1" y2="1346.3" stroke="#787878" stroke-width="2.5" stroke-dasharray="6.8 2.2" stroke-linecap="butt"/>
<line x1="534.2" y1="731.3" x2="534.2" y2="1346.3" stroke="#787878" stroke-width="2.5" stroke-dasharray="6.8 2.2" stroke-linecap="butt"/>
<line x1="674.3" y1="731.3" x2="674.3" y2="1346.3" stroke="#787878" stroke-width="2.5" stroke-dasharray="6.8 2.2" stroke-linecap="butt"/>
<line x1="113.9" y1="1243.8" x2="674.3" y2="1243.8" stroke="#787878" stroke-width="2.5" stroke-dasharray="6.8 2.2" stroke-linecap="butt"/>
<line x1="113.9" y1="1141.3" x2="674.3" y2="1141.3" stroke="#787878" stroke-width="2.5" stroke-dasharray="6.8 2.2" stroke-linecap="butt"/>
<line x1="113.9" y1="1038.8" x2="674.3" y2="1038.8" stroke="#787878" stroke-width="2.5" stroke-dasharray="6.8 2.2" stroke-linecap="butt"/>
<line x1="113.9" y1="936.3" x2="674.3" y2="936.3" stroke="#787878" stroke-width="2.5" stroke-dasharray="6.8 2.2" stroke-linecap="butt"/>
<line x1="113.9" y1="833.8" x2="674.3" y2="833.8" stroke="#787878" stroke-width="2.5" stroke-dasharray="6.8 2.2" stroke-linecap="butt"/>
<line x1="113.9" y1="731.3" x2="674.3" y2="731.3" stroke="#787878" stroke-width="2.5" stroke-dasharray="6.8 2.2" stroke-linecap="butt"/>
<line x1="113.9" y1="730.3" x2="113.9" y2="1347.3" stroke="#000000" stroke-width="2.4" stroke-linecap="butt"/>
<line x1="113.9" y1="1346.3" x2="675.3" y2="1346.3" stroke="#000000" stroke-width="2.4" stroke-linecap="butt"/>
<line x1="107.4" y1="1346.3" x2="121.4" y2="1346.3" stroke="#000000" stroke-width="2.2" stroke-linecap="butt"/>
<line x1="107.4" y1="1325.8" x2="113.9" y2="1325.8" stroke="#000000" stroke-width="2" stroke-linecap="butt"/>
<line x1="107.4" y1="1305.3" x2="113.9" y2="1305.3" stroke="#000000" stroke-width="2" stroke-linecap="butt"/>
<line x1="107.4" y1="1284.8" x2="113.9" y2="1284.8" stroke="#000000" stroke-width="2" stroke-linecap="butt"/>
<line x1="107.4" y1="1264.3" x2="113.9" y2="1264.3" stroke="#000000" stroke-width="2" stroke-linecap="butt"/>
<line x1="107.4" y1="1243.8" x2="121.4" y2="1243.8" stroke="#000000" stroke-width="2.2" stroke-linecap="butt"/>
<line x1="107.4" y1="1223.3" x2="113.9" y2="1223.3" stroke="#000000" stroke-width="2" stroke-linecap="butt"/>
<line x1="107.4" y1="1202.8" x2="113.9" y2="1202.8" stroke="#000000" stroke-width="2" stroke-linecap="butt"/>
<line x1="107.4" y1="1182.3" x2="113.9" y2="1182.3" stroke="#000000" stroke-width="2" stroke-linecap="butt"/>
<line x1="107.4" y1="1161.8" x2="113.9" y2="1161.8" stroke="#000000" stroke-width="2" stroke-linecap="butt"/>
<line x1="107.4" y1="1141.3" x2="121.4" y2="1141.3" stroke="#000000" stroke-width="2.2" stroke-linecap="butt"/>
<line x1="107.4" y1="1120.8" x2="113.9" y2="1120.8" stroke="#000000" stroke-width="2" stroke-linecap="butt"/>
<line x1="107.4" y1="1100.3" x2="113.9" y2="1100.3" stroke="#000000" stroke-width="2" stroke-linecap="butt"/>
<line x1="107.4" y1="1079.8" x2="113.9" y2="1079.8" stroke="#000000" stroke-width="2" stroke-linecap="butt"/>
<line x1="107.4" y1="1059.3" x2="113.9" y2="1059.3" stroke="#000000" stroke-width="2" stroke-linecap="butt"/>
<line x1="107.4" y1="1038.8" x2="121.4" y2="1038.8" stroke="#000000" stroke-width="2.2" stroke-linecap="butt"/>
<line x1="107.4" y1="1018.3" x2="113.9" y2="1018.3" stroke="#000000" stroke-width="2" stroke-linecap="butt"/>
<line x1="107.4" y1="997.8" x2="113.9" y2="997.8" stroke="#000000" stroke-width="2" stroke-linecap="butt"/>
<line x1="107.4" y1="977.3" x2="113.9" y2="977.3" stroke="#000000" stroke-width="2" stroke-linecap="butt"/>
<line x1="107.4" y1="956.8" x2="113.9" y2="956.8" stroke="#000000" stroke-width="2" stroke-linecap="butt"/>
<line x1="107.4" y1="936.3" x2="121.4" y2="936.3" stroke="#000000" stroke-width="2.2" stroke-linecap="butt"/>
<line x1="107.4" y1="915.8" x2="113.9" y2="915.8" stroke="#000000" stroke-width="2" stroke-linecap="butt"/>
<line x1="107.4" y1="895.3" x2="113.9" y2="895.3" stroke="#000000" stroke-width="2" stroke-linecap="butt"/>
<line x1="107.4" y1="874.8" x2="113.9" y2="874.8" stroke="#000000" stroke-width="2" stroke-linecap="butt"/>
<line x1="107.4" y1="854.3" x2="113.9" y2="854.3" stroke="#000000" stroke-width="2" stroke-linecap="butt"/>
<line x1="107.4" y1="833.8" x2="121.4" y2="833.8" stroke="#000000" stroke-width="2.2" stroke-linecap="butt"/>
<line x1="107.4" y1="813.3" x2="113.9" y2="813.3" stroke="#000000" stroke-width="2" stroke-linecap="butt"/>
<line x1="107.4" y1="792.8" x2="113.9" y2="792.8" stroke="#000000" stroke-width="2" stroke-linecap="butt"/>
<line x1="107.4" y1="772.3" x2="113.9" y2="772.3" stroke="#000000" stroke-width="2" stroke-linecap="butt"/>
<line x1="107.4" y1="751.8" x2="113.9" y2="751.8" stroke="#000000" stroke-width="2" stroke-linecap="butt"/>
<line x1="107.4" y1="731.3" x2="121.4" y2="731.3" stroke="#000000" stroke-width="2.2" stroke-linecap="butt"/>
<line x1="113.9" y1="1338.3" x2="113.9" y2="1352.3" stroke="#000000" stroke-width="2.2" stroke-linecap="butt"/>
<line x1="141.92" y1="1346.3" x2="141.92" y2="1352.3" stroke="#000000" stroke-width="2" stroke-linecap="butt"/>
<line x1="169.94" y1="1346.3" x2="169.94" y2="1352.3" stroke="#000000" stroke-width="2" stroke-linecap="butt"/>
<line x1="197.96" y1="1346.3" x2="197.96" y2="1352.3" stroke="#000000" stroke-width="2" stroke-linecap="butt"/>
<line x1="225.98" y1="1346.3" x2="225.98" y2="1352.3" stroke="#000000" stroke-width="2" stroke-linecap="butt"/>
<line x1="254" y1="1338.3" x2="254" y2="1352.3" stroke="#000000" stroke-width="2.2" stroke-linecap="butt"/>
<line x1="282.02" y1="1346.3" x2="282.02" y2="1352.3" stroke="#000000" stroke-width="2" stroke-linecap="butt"/>
<line x1="310.04" y1="1346.3" x2="310.04" y2="1352.3" stroke="#000000" stroke-width="2" stroke-linecap="butt"/>
<line x1="338.06" y1="1346.3" x2="338.06" y2="1352.3" stroke="#000000" stroke-width="2" stroke-linecap="butt"/>
<line x1="366.08" y1="1346.3" x2="366.08" y2="1352.3" stroke="#000000" stroke-width="2" stroke-linecap="butt"/>
<line x1="394.1" y1="1338.3" x2="394.1" y2="1352.3" stroke="#000000" stroke-width="2.2" stroke-linecap="butt"/>
<line x1="422.12" y1="1346.3" x2="422.12" y2="1352.3" stroke="#000000" stroke-width="2" stroke-linecap="butt"/>
<line x1="450.14" y1="1346.3" x2="450.14" y2="1352.3" stroke="#000000" stroke-width="2" stroke-linecap="butt"/>
<line x1="478.16" y1="1346.3" x2="478.16" y2="1352.3" stroke="#000000" stroke-width="2" stroke-linecap="butt"/>
<line x1="506.18" y1="1346.3" x2="506.18" y2="1352.3" stroke="#000000" stroke-width="2" stroke-linecap="butt"/>
<line x1="534.2" y1="1338.3" x2="534.2" y2="1352.3" stroke="#000000" stroke-width="2.2" stroke-linecap="butt"/>
<line x1="562.22" y1="1346.3" x2="562.22" y2="1352.3" stroke="#000000" stroke-width="2" stroke-linecap="butt"/>
<line x1="590.24" y1="1346.3" x2="590.24" y2="1352.3" stroke="#000000" stroke-width="2" stroke-linecap="butt"/>
<line x1="618.26" y1="1346.3" x2="618.26" y2="1352.3" stroke="#000000" stroke-width="2" stroke-linecap="butt"/>
<line x1="646.28" y1="1346.3" x2="646.28" y2="1352.3" stroke="#000000" stroke-width="2" stroke-linecap="butt"/>
<line x1="674.3" y1="1338.3" x2="674.3" y2="1352.3" stroke="#000000" stroke-width="2.2" stroke-linecap="butt"/>
<text x="90.1" y="740" font-family="Liberation Sans" font-size="27" fill="#000000" text-anchor="end">1.6</text>
<text x="90.1" y="842.5" font-family="Liberation Sans" font-size="27" fill="#000000" text-anchor="end">1.4</text>
<text x="90.1" y="945" font-family="Liberation Sans" font-size="27" fill="#000000" text-anchor="end">1.2</text>
<text x="90.1" y="1047.5" font-family="Liberation Sans" font-size="27" fill="#000000" text-anchor="end">1</text>
<text x="90.1" y="1150" font-family="Liberation Sans" font-size="27" fill="#000000" text-anchor="end">0.8</text>
<text x="90.1" y="1252.5" font-family="Liberation Sans" font-size="27" fill="#000000" text-anchor="end">0.6</text>
<text x="90.1" y="1355" font-family="Liberation Sans" font-size="27" fill="#000000" text-anchor="end">0.4</text>
<text x="113.9" y="1386.5" font-family="Liberation Sans" font-size="27" fill="#000000" text-anchor="middle">0</text>
<text x="254" y="1386.5" font-family="Liberation Sans" font-size="27" fill="#000000" text-anchor="middle">0.02</text>
<text x="394.1" y="1386.5" font-family="Liberation Sans" font-size="27" fill="#000000" text-anchor="middle">0.04</text>
<text x="534.2" y="1386.5" font-family="Liberation Sans" font-size="27" fill="#000000" text-anchor="middle">0.06</text>
<text x="674.3" y="1386.5" font-family="Liberation Sans" font-size="27" fill="#000000" text-anchor="middle">0.08</text>
<text x="382.3" y="1420" font-family="Liberation Serif" font-size="33" fill="#000000" text-anchor="middle">Aspect ratio</text>
<text x="44" y="1011.5" font-family="Liberation Serif" font-size="33" fill="#000000" text-anchor="middle" transform="rotate(-90 44 1011.5)">Normalized discharge p.u.w.</text>
<text x="11.8" y="757" font-family="Liberation Sans" font-size="54" fill="#000000" text-anchor="start" font-weight="bold">c</text>
<circle cx="148.6" cy="1079" r="10.2" fill="#0070C0" stroke="#000000" stroke-width="2.6"/>
<circle cx="166.2" cy="1038.4" r="10.2" fill="#0070C0" stroke="#000000" stroke-width="2.6"/>
<circle cx="218.6" cy="1022.4" r="10.2" fill="#0070C0" stroke="#000000" stroke-width="2.6"/>
<circle cx="236.4" cy="1038.4" r="10.2" fill="#000000" stroke="#000000" stroke-width="2.6"/>
<circle cx="359" cy="979.4" r="10.2" fill="#000000" stroke="#000000" stroke-width="2.6"/>
<circle cx="195.6" cy="1164.4" r="10.2" fill="#000000" stroke="#000000" stroke-width="2.6"/>
<circle cx="306.4" cy="1038.4" r="10.2" fill="#FF00FF" stroke="#000000" stroke-width="2.6"/>
<circle cx="498.9" cy="847.6" r="10.2" fill="#FF00FF" stroke="#000000" stroke-width="2.6"/>
<circle cx="242" cy="1168.4" r="10.2" fill="#FF00FF" stroke="#000000" stroke-width="2.6"/>
<circle cx="639.2" cy="853" r="10.2" fill="#00E060" stroke="#000000" stroke-width="2.6"/>
<circle cx="376.4" cy="1038.4" r="10.2" fill="#00E060" stroke="#000000" stroke-width="2.6"/>
<circle cx="288.6" cy="1157" r="10.2" fill="#00E060" stroke="#000000" stroke-width="2.6"/>
<polyline points="148.6,1126 634.7,848.5" fill="none" stroke="#000000" stroke-width="4.4" stroke-dasharray="0 9.06" stroke-linecap="round" stroke-linejoin="round"/>
<text x="454.8" y="973.9" font-family="Liberation Sans" font-size="27" fill="#000000" text-anchor="start" font-style="italic">Y = 7.81X + 0.79</text>
<text x="504.8" y="1005.3" font-family="Liberation Sans" font-size="27" fill="#000000" text-anchor="start" font-style="italic">R = 0.78</text>
<text x="232.6" y="1236.5" font-family="Liberation Sans" font-size="27" fill="#000000" text-anchor="start" font-style="italic">3.18H<tspan dy="-8.8" font-size="17.5">1.79</tspan><tspan dy="8.8">+0.32H</tspan><tspan dy="-8.8" font-size="17.5">0.79</tspan><tspan dy="8.8">W×10</tspan><tspan dy="-8.8" font-size="17.5">-6</tspan><tspan dy="8.8"> (Sv)</tspan></text>
<line x1="978.5" y1="734" x2="978.5" y2="1342.4" stroke="#787878" stroke-width="2.5" stroke-dasharray="6.8 2.2" stroke-linecap="butt"/>
<line x1="1099" y1="734" x2="1099" y2="1342.4" stroke="#787878" stroke-width="2.5" stroke-dasharray="6.8 2.2" stroke-linecap="butt"/>
<line x1="1219.5" y1="734" x2="1219.5" y2="1342.4" stroke="#787878" stroke-width="2.5" stroke-dasharray="6.8 2.2" stroke-linecap="butt"/>
<line x1="1340" y1="734" x2="1340" y2="1342.4" stroke="#787878" stroke-width="2.5" stroke-dasharray="6.8 2.2" stroke-linecap="butt"/>
<line x1="1460.5" y1="734" x2="1460.5" y2="1342.4" stroke="#787878" stroke-width="2.5" stroke-dasharray="6.8 2.2" stroke-linecap="butt"/>
<line x1="858" y1="1220.72" x2="1460.5" y2="1220.72" stroke="#787878" stroke-width="2.5" stroke-dasharray="6.8 2.2" stroke-linecap="butt"/>
<line x1="858" y1="1099.04" x2="1460.5" y2="1099.04" stroke="#787878" stroke-width="2.5" stroke-dasharray="6.8 2.2" stroke-linecap="butt"/>
<line x1="858" y1="977.36" x2="1460.5" y2="977.36" stroke="#787878" stroke-width="2.5" stroke-dasharray="6.8 2.2" stroke-linecap="butt"/>
<line x1="858" y1="855.68" x2="1460.5" y2="855.68" stroke="#787878" stroke-width="2.5" stroke-dasharray="6.8 2.2" stroke-linecap="butt"/>
<line x1="858" y1="734" x2="1460.5" y2="734" stroke="#787878" stroke-width="2.5" stroke-dasharray="6.8 2.2" stroke-linecap="butt"/>
<line x1="858" y1="733" x2="858" y2="1343.4" stroke="#000000" stroke-width="2.4" stroke-linecap="butt"/>
<line x1="858" y1="1342.4" x2="1461.5" y2="1342.4" stroke="#000000" stroke-width="2.4" stroke-linecap="butt"/>
<line x1="851.5" y1="1342.4" x2="865.5" y2="1342.4" stroke="#000000" stroke-width="2.2" stroke-linecap="butt"/>
<line x1="851.5" y1="1318.06" x2="858" y2="1318.06" stroke="#000000" stroke-width="2" stroke-linecap="butt"/>
<line x1="851.5" y1="1293.73" x2="858" y2="1293.73" stroke="#000000" stroke-width="2" stroke-linecap="butt"/>
<line x1="851.5" y1="1269.39" x2="858" y2="1269.39" stroke="#000000" stroke-width="2" stroke-linecap="butt"/>
<line x1="851.5" y1="1245.06" x2="858" y2="1245.06" stroke="#000000" stroke-width="2" stroke-linecap="butt"/>
<line x1="851.5" y1="1220.72" x2="865.5" y2="1220.72" stroke="#000000" stroke-width="2.2" stroke-linecap="butt"/>
<line x1="851.5" y1="1196.38" x2="858" y2="1196.38" stroke="#000000" stroke-width="2" stroke-linecap="butt"/>
<line x1="851.5" y1="1172.05" x2="858" y2="1172.05" stroke="#000000" stroke-width="2" stroke-linecap="butt"/>
<line x1="851.5" y1="1147.71" x2="858" y2="1147.71" stroke="#000000" stroke-width="2" stroke-linecap="butt"/>
<line x1="851.5" y1="1123.38" x2="858" y2="1123.38" stroke="#000000" stroke-width="2" stroke-linecap="butt"/>
<line x1="851.5" y1="1099.04" x2="865.5" y2="1099.04" stroke="#000000" stroke-width="2.2" stroke-linecap="butt"/>
<line x1="851.5" y1="1074.7" x2="858" y2="1074.7" stroke="#000000" stroke-width="2" stroke-linecap="butt"/>
<line x1="851.5" y1="1050.37" x2="858" y2="1050.37" stroke="#000000" stroke-width="2" stroke-linecap="butt"/>
<line x1="851.5" y1="1026.03" x2="858" y2="1026.03" stroke="#000000" stroke-width="2" stroke-linecap="butt"/>
<line x1="851.5" y1="1001.7" x2="858" y2="1001.7" stroke="#000000" stroke-width="2" stroke-linecap="butt"/>
<line x1="851.5" y1="977.36" x2="865.5" y2="977.36" stroke="#000000" stroke-width="2.2" stroke-linecap="butt"/>
<line x1="851.5" y1="953.02" x2="858" y2="953.02" stroke="#000000" stroke-width="2" stroke-linecap="butt"/>
<line x1="851.5" y1="928.69" x2="858" y2="928.69" stroke="#000000" stroke-width="2" stroke-linecap="butt"/>
<line x1="851.5" y1="904.35" x2="858" y2="904.35" stroke="#000000" stroke-width="2" stroke-linecap="butt"/>
<line x1="851.5" y1="880.02" x2="858" y2="880.02" stroke="#000000" stroke-width="2" stroke-linecap="butt"/>
<line x1="851.5" y1="855.68" x2="865.5" y2="855.68" stroke="#000000" stroke-width="2.2" stroke-linecap="butt"/>
<line x1="851.5" y1="831.34" x2="858" y2="831.34" stroke="#000000" stroke-width="2" stroke-linecap="butt"/>
<line x1="851.5" y1="807.01" x2="858" y2="807.01" stroke="#000000" stroke-width="2" stroke-linecap="butt"/>
<line x1="851.5" y1="782.67" x2="858" y2="782.67" stroke="#000000" stroke-width="2" stroke-linecap="butt"/>
<line x1="851.5" y1="758.34" x2="858" y2="758.34" stroke="#000000" stroke-width="2" stroke-linecap="butt"/>
<line x1="851.5" y1="734" x2="865.5" y2="734" stroke="#000000" stroke-width="2.2" stroke-linecap="butt"/>
<line x1="858" y1="1334.4" x2="858" y2="1348.4" stroke="#000000" stroke-width="2.2" stroke-linecap="butt"/>
<line x1="882.1" y1="1342.4" x2="882.1" y2="1348.4" stroke="#000000" stroke-width="2" stroke-linecap="butt"/>
<line x1="906.2" y1="1342.4" x2="906.2" y2="1348.4" stroke="#000000" stroke-width="2" stroke-linecap="butt"/>
<line x1="930.3" y1="1342.4" x2="930.3" y2="1348.4" stroke="#000000" stroke-width="2" stroke-linecap="butt"/>
<line x1="954.4" y1="1342.4" x2="954.4" y2="1348.4" stroke="#000000" stroke-width="2" stroke-linecap="butt"/>
<line x1="978.5" y1="1334.4" x2="978.5" y2="1348.4" stroke="#000000" stroke-width="2.2" stroke-linecap="butt"/>
<line x1="1002.6" y1="1342.4" x2="1002.6" y2="1348.4" stroke="#000000" stroke-width="2" stroke-linecap="butt"/>
<line x1="1026.7" y1="1342.4" x2="1026.7" y2="1348.4" stroke="#000000" stroke-width="2" stroke-linecap="butt"/>
<line x1="1050.8" y1="1342.4" x2="1050.8" y2="1348.4" stroke="#000000" stroke-width="2" stroke-linecap="butt"/>
<line x1="1074.9" y1="1342.4" x2="1074.9" y2="1348.4" stroke="#000000" stroke-width="2" stroke-linecap="butt"/>
<line x1="1099" y1="1334.4" x2="1099" y2="1348.4" stroke="#000000" stroke-width="2.2" stroke-linecap="butt"/>
<line x1="1123.1" y1="1342.4" x2="1123.1" y2="1348.4" stroke="#000000" stroke-width="2" stroke-linecap="butt"/>
<line x1="1147.2" y1="1342.4" x2="1147.2" y2="1348.4" stroke="#000000" stroke-width="2" stroke-linecap="butt"/>
<line x1="1171.3" y1="1342.4" x2="1171.3" y2="1348.4" stroke="#000000" stroke-width="2" stroke-linecap="butt"/>
<line x1="1195.4" y1="1342.4" x2="1195.4" y2="1348.4" stroke="#000000" stroke-width="2" stroke-linecap="butt"/>
<line x1="1219.5" y1="1334.4" x2="1219.5" y2="1348.4" stroke="#000000" stroke-width="2.2" stroke-linecap="butt"/>
<line x1="1243.6" y1="1342.4" x2="1243.6" y2="1348.4" stroke="#000000" stroke-width="2" stroke-linecap="butt"/>
<line x1="1267.7" y1="1342.4" x2="1267.7" y2="1348.4" stroke="#000000" stroke-width="2" stroke-linecap="butt"/>
<line x1="1291.8" y1="1342.4" x2="1291.8" y2="1348.4" stroke="#000000" stroke-width="2" stroke-linecap="butt"/>
<line x1="1315.9" y1="1342.4" x2="1315.9" y2="1348.4" stroke="#000000" stroke-width="2" stroke-linecap="butt"/>
<line x1="1340" y1="1334.4" x2="1340" y2="1348.4" stroke="#000000" stroke-width="2.2" stroke-linecap="butt"/>
<line x1="1364.1" y1="1342.4" x2="1364.1" y2="1348.4" stroke="#000000" stroke-width="2" stroke-linecap="butt"/>
<line x1="1388.2" y1="1342.4" x2="1388.2" y2="1348.4" stroke="#000000" stroke-width="2" stroke-linecap="butt"/>
<line x1="1412.3" y1="1342.4" x2="1412.3" y2="1348.4" stroke="#000000" stroke-width="2" stroke-linecap="butt"/>
<line x1="1436.4" y1="1342.4" x2="1436.4" y2="1348.4" stroke="#000000" stroke-width="2" stroke-linecap="butt"/>
<line x1="1460.5" y1="1334.4" x2="1460.5" y2="1348.4" stroke="#000000" stroke-width="2.2" stroke-linecap="butt"/>
<text x="835.5" y="1351.1" font-family="Liberation Sans" font-size="27" fill="#000000" text-anchor="end">0</text>
<text x="858" y="1383.5" font-family="Liberation Sans" font-size="27" fill="#000000" text-anchor="middle">0</text>
<text x="835.5" y="1229.42" font-family="Liberation Sans" font-size="27" fill="#000000" text-anchor="end">0.5</text>
<text x="978.5" y="1383.5" font-family="Liberation Sans" font-size="27" fill="#000000" text-anchor="middle">0.5</text>
<text x="835.5" y="1107.74" font-family="Liberation Sans" font-size="27" fill="#000000" text-anchor="end">1</text>
<text x="1099" y="1383.5" font-family="Liberation Sans" font-size="27" fill="#000000" text-anchor="middle">1</text>
<text x="835.5" y="986.06" font-family="Liberation Sans" font-size="27" fill="#000000" text-anchor="end">1.5</text>
<text x="1219.5" y="1383.5" font-family="Liberation Sans" font-size="27" fill="#000000" text-anchor="middle">1.5</text>
<text x="835.5" y="864.38" font-family="Liberation Sans" font-size="27" fill="#000000" text-anchor="end">2</text>
<text x="1340" y="1383.5" font-family="Liberation Sans" font-size="27" fill="#000000" text-anchor="middle">2</text>
<text x="835.5" y="742.7" font-family="Liberation Sans" font-size="27" fill="#000000" text-anchor="end">2.5</text>
<text x="1460.5" y="1383.5" font-family="Liberation Sans" font-size="27" fill="#000000" text-anchor="middle">2.5</text>
<text x="1160.7" y="1419.5" font-family="Liberation Serif" font-size="33" fill="#000000" text-anchor="middle">Calculated heat discharge (TW)</text>
<text x="785.6" y="1053.4" font-family="Liberation Serif" font-size="33" fill="#000000" text-anchor="middle" transform="rotate(-90 785.6 1053.4)">Simulated heat discharge (TW)</text>
<text x="746.8" y="760.2" font-family="Liberation Sans" font-size="54" fill="#000000" text-anchor="start">d</text>
<line x1="858" y1="1342.4" x2="1460.5" y2="734" stroke="#000000" stroke-width="2.7" stroke-dasharray="10 10.7" stroke-linecap="butt"/>
<circle cx="879.1" cy="1317.3" r="9.9" fill="none" stroke="#000000" stroke-width="2.3"/>
<circle cx="897.6" cy="1290" r="9.9" fill="none" stroke="#000000" stroke-width="2.3"/>
<circle cx="915.7" cy="1269.3" r="9.9" fill="none" stroke="#000000" stroke-width="2.3"/>
<circle cx="934.3" cy="1242.7" r="9.9" fill="none" stroke="#000000" stroke-width="2.3"/>
<circle cx="991.3" cy="1154" r="9.9" fill="none" stroke="#000000" stroke-width="2.3"/>
<circle cx="1008" cy="1145.3" r="9.9" fill="none" stroke="#000000" stroke-width="2.3"/>
<circle cx="1047.7" cy="1136.7" r="9.9" fill="none" stroke="#000000" stroke-width="2.3"/>
<circle cx="1098.8" cy="1052.4" r="9.9" fill="none" stroke="#000000" stroke-width="2.3"/>
<circle cx="1105.6" cy="1050.3" r="9.9" fill="none" stroke="#000000" stroke-width="2.3"/>
<circle cx="1202.2" cy="1029.6" r="9.9" fill="none" stroke="#000000" stroke-width="2.3"/>
<circle cx="1236.8" cy="930.8" r="9.9" fill="none" stroke="#000000" stroke-width="2.3"/>
<circle cx="1374.8" cy="890.7" r="9.9" fill="none" stroke="#000000" stroke-width="2.3"/>
<text x="891" y="813.3" font-family="Liberation Sans" font-size="27" fill="#000000" text-anchor="start" font-style="italic">(5.17H<tspan dy="-8.8" font-size="17.5">1.79</tspan><tspan dy="8.8">lnH-13.78H</tspan><tspan dy="-8.8" font-size="17.5">1.79</tspan><tspan dy="8.8">+0.52H</tspan><tspan dy="-8.8" font-size="17.5">0.79</tspan><tspan dy="8.8">WlnH-</tspan></text>
<text x="892.8" y="861.6" font-family="Liberation Sans" font-size="27" fill="#000000" text-anchor="start" font-style="italic">1.4H<tspan dy="-8.8" font-size="17.5">0.79</tspan><tspan dy="8.8">W)×10</tspan><tspan dy="-8.8" font-size="17.5">-6</tspan><tspan dy="8.8"> (TW)</tspan></text>
<line x1="281.58" y1="1459.1" x2="281.58" y2="2082.4" stroke="#787878" stroke-width="2.5" stroke-dasharray="6.8 2.2" stroke-linecap="butt"/>
<line x1="412.25" y1="1459.1" x2="412.25" y2="2082.4" stroke="#787878" stroke-width="2.5" stroke-dasharray="6.8 2.2" stroke-linecap="butt"/>
<line x1="542.93" y1="1459.1" x2="542.93" y2="2082.4" stroke="#787878" stroke-width="2.5" stroke-dasharray="6.8 2.2" stroke-linecap="butt"/>
<line x1="673.6" y1="1459.1" x2="673.6" y2="2082.4" stroke="#787878" stroke-width="2.5" stroke-dasharray="6.8 2.2" stroke-linecap="butt"/>
<line x1="150.9" y1="1978.52" x2="673.6" y2="1978.52" stroke="#787878" stroke-width="2.5" stroke-dasharray="6.8 2.2" stroke-linecap="butt"/>
<line x1="150.9" y1="1874.63" x2="673.6" y2="1874.63" stroke="#787878" stroke-width="2.5" stroke-dasharray="6.8 2.2" stroke-linecap="butt"/>
<line x1="150.9" y1="1770.75" x2="673.6" y2="1770.75" stroke="#787878" stroke-width="2.5" stroke-dasharray="6.8 2.2" stroke-linecap="butt"/>
<line x1="150.9" y1="1666.87" x2="673.6" y2="1666.87" stroke="#787878" stroke-width="2.5" stroke-dasharray="6.8 2.2" stroke-linecap="butt"/>
<line x1="150.9" y1="1562.98" x2="673.6" y2="1562.98" stroke="#787878" stroke-width="2.5" stroke-dasharray="6.8 2.2" stroke-linecap="butt"/>
<line x1="150.9" y1="1459.1" x2="673.6" y2="1459.1" stroke="#787878" stroke-width="2.5" stroke-dasharray="6.8 2.2" stroke-linecap="butt"/>
<line x1="150.9" y1="1458.1" x2="150.9" y2="2083.4" stroke="#000000" stroke-width="2.4" stroke-linecap="butt"/>
<line x1="150.9" y1="2082.4" x2="674.6" y2="2082.4" stroke="#000000" stroke-width="2.4" stroke-linecap="butt"/>
<line x1="144.4" y1="2082.4" x2="158.4" y2="2082.4" stroke="#000000" stroke-width="2.2" stroke-linecap="butt"/>
<line x1="144.4" y1="2061.62" x2="150.9" y2="2061.62" stroke="#000000" stroke-width="2" stroke-linecap="butt"/>
<line x1="144.4" y1="2040.85" x2="150.9" y2="2040.85" stroke="#000000" stroke-width="2" stroke-linecap="butt"/>
<line x1="144.4" y1="2020.07" x2="150.9" y2="2020.07" stroke="#000000" stroke-width="2" stroke-linecap="butt"/>
<line x1="144.4" y1="1999.29" x2="150.9" y2="1999.29" stroke="#000000" stroke-width="2" stroke-linecap="butt"/>
<line x1="144.4" y1="1978.52" x2="158.4" y2="1978.52" stroke="#000000" stroke-width="2.2" stroke-linecap="butt"/>
<line x1="144.4" y1="1957.74" x2="150.9" y2="1957.74" stroke="#000000" stroke-width="2" stroke-linecap="butt"/>
<line x1="144.4" y1="1936.96" x2="150.9" y2="1936.96" stroke="#000000" stroke-width="2" stroke-linecap="butt"/>
<line x1="144.4" y1="1916.19" x2="150.9" y2="1916.19" stroke="#000000" stroke-width="2" stroke-linecap="butt"/>
<line x1="144.4" y1="1895.41" x2="150.9" y2="1895.41" stroke="#000000" stroke-width="2" stroke-linecap="butt"/>
<line x1="144.4" y1="1874.63" x2="158.4" y2="1874.63" stroke="#000000" stroke-width="2.2" stroke-linecap="butt"/>
<line x1="144.4" y1="1853.86" x2="150.9" y2="1853.86" stroke="#000000" stroke-width="2" stroke-linecap="butt"/>
<line x1="144.4" y1="1833.08" x2="150.9" y2="1833.08" stroke="#000000" stroke-width="2" stroke-linecap="butt"/>
<line x1="144.4" y1="1812.3" x2="150.9" y2="1812.3" stroke="#000000" stroke-width="2" stroke-linecap="butt"/>
<line x1="144.4" y1="1791.53" x2="150.9" y2="1791.53" stroke="#000000" stroke-width="2" stroke-linecap="butt"/>
<line x1="144.4" y1="1770.75" x2="158.4" y2="1770.75" stroke="#000000" stroke-width="2.2" stroke-linecap="butt"/>
<line x1="144.4" y1="1749.97" x2="150.9" y2="1749.97" stroke="#000000" stroke-width="2" stroke-linecap="butt"/>
<line x1="144.4" y1="1729.2" x2="150.9" y2="1729.2" stroke="#000000" stroke-width="2" stroke-linecap="butt"/>
<line x1="144.4" y1="1708.42" x2="150.9" y2="1708.42" stroke="#000000" stroke-width="2" stroke-linecap="butt"/>
<line x1="144.4" y1="1687.64" x2="150.9" y2="1687.64" stroke="#000000" stroke-width="2" stroke-linecap="butt"/>
<line x1="144.4" y1="1666.87" x2="158.4" y2="1666.87" stroke="#000000" stroke-width="2.2" stroke-linecap="butt"/>
<line x1="144.4" y1="1646.09" x2="150.9" y2="1646.09" stroke="#000000" stroke-width="2" stroke-linecap="butt"/>
<line x1="144.4" y1="1625.31" x2="150.9" y2="1625.31" stroke="#000000" stroke-width="2" stroke-linecap="butt"/>
<line x1="144.4" y1="1604.54" x2="150.9" y2="1604.54" stroke="#000000" stroke-width="2" stroke-linecap="butt"/>
<line x1="144.4" y1="1583.76" x2="150.9" y2="1583.76" stroke="#000000" stroke-width="2" stroke-linecap="butt"/>
<line x1="144.4" y1="1562.98" x2="158.4" y2="1562.98" stroke="#000000" stroke-width="2.2" stroke-linecap="butt"/>
<line x1="144.4" y1="1542.21" x2="150.9" y2="1542.21" stroke="#000000" stroke-width="2" stroke-linecap="butt"/>
<line x1="144.4" y1="1521.43" x2="150.9" y2="1521.43" stroke="#000000" stroke-width="2" stroke-linecap="butt"/>
<line x1="144.4" y1="1500.65" x2="150.9" y2="1500.65" stroke="#000000" stroke-width="2" stroke-linecap="butt"/>
<line x1="144.4" y1="1479.88" x2="150.9" y2="1479.88" stroke="#000000" stroke-width="2" stroke-linecap="butt"/>
<line x1="144.4" y1="1459.1" x2="158.4" y2="1459.1" stroke="#000000" stroke-width="2.2" stroke-linecap="butt"/>
<line x1="150.9" y1="2074.4" x2="150.9" y2="2088.4" stroke="#000000" stroke-width="2.2" stroke-linecap="butt"/>
<line x1="177.04" y1="2082.4" x2="177.04" y2="2088.4" stroke="#000000" stroke-width="2" stroke-linecap="butt"/>
<line x1="203.17" y1="2082.4" x2="203.17" y2="2088.4" stroke="#000000" stroke-width="2" stroke-linecap="butt"/>
<line x1="229.31" y1="2082.4" x2="229.31" y2="2088.4" stroke="#000000" stroke-width="2" stroke-linecap="butt"/>
<line x1="255.44" y1="2082.4" x2="255.44" y2="2088.4" stroke="#000000" stroke-width="2" stroke-linecap="butt"/>
<line x1="281.58" y1="2074.4" x2="281.58" y2="2088.4" stroke="#000000" stroke-width="2.2" stroke-linecap="butt"/>
<line x1="307.71" y1="2082.4" x2="307.71" y2="2088.4" stroke="#000000" stroke-width="2" stroke-linecap="butt"/>
<line x1="333.85" y1="2082.4" x2="333.85" y2="2088.4" stroke="#000000" stroke-width="2" stroke-linecap="butt"/>
<line x1="359.98" y1="2082.4" x2="359.98" y2="2088.4" stroke="#000000" stroke-width="2" stroke-linecap="butt"/>
<line x1="386.12" y1="2082.4" x2="386.12" y2="2088.4" stroke="#000000" stroke-width="2" stroke-linecap="butt"/>
<line x1="412.25" y1="2074.4" x2="412.25" y2="2088.4" stroke="#000000" stroke-width="2.2" stroke-linecap="butt"/>
<line x1="438.39" y1="2082.4" x2="438.39" y2="2088.4" stroke="#000000" stroke-width="2" stroke-linecap="butt"/>
<line x1="464.52" y1="2082.4" x2="464.52" y2="2088.4" stroke="#000000" stroke-width="2" stroke-linecap="butt"/>
<line x1="490.66" y1="2082.4" x2="490.66" y2="2088.4" stroke="#000000" stroke-width="2" stroke-linecap="butt"/>
<line x1="516.79" y1="2082.4" x2="516.79" y2="2088.4" stroke="#000000" stroke-width="2" stroke-linecap="butt"/>
<line x1="542.93" y1="2074.4" x2="542.93" y2="2088.4" stroke="#000000" stroke-width="2.2" stroke-linecap="butt"/>
<line x1="569.06" y1="2082.4" x2="569.06" y2="2088.4" stroke="#000000" stroke-width="2" stroke-linecap="butt"/>
<line x1="595.2" y1="2082.4" x2="595.2" y2="2088.4" stroke="#000000" stroke-width="2" stroke-linecap="butt"/>
<line x1="621.33" y1="2082.4" x2="621.33" y2="2088.4" stroke="#000000" stroke-width="2" stroke-linecap="butt"/>
<line x1="647.47" y1="2082.4" x2="647.47" y2="2088.4" stroke="#000000" stroke-width="2" stroke-linecap="butt"/>
<line x1="673.6" y1="2074.4" x2="673.6" y2="2088.4" stroke="#000000" stroke-width="2.2" stroke-linecap="butt"/>
<text x="128.1" y="2091.1" font-family="Liberation Sans" font-size="27" fill="#000000" text-anchor="end">0</text>
<text x="128.1" y="1987.22" font-family="Liberation Sans" font-size="27" fill="#000000" text-anchor="end">0.0005</text>
<text x="128.1" y="1883.33" font-family="Liberation Sans" font-size="27" fill="#000000" text-anchor="end">0.001</text>
<text x="128.1" y="1779.45" font-family="Liberation Sans" font-size="27" fill="#000000" text-anchor="end">0.0015</text>
<text x="128.1" y="1675.57" font-family="Liberation Sans" font-size="27" fill="#000000" text-anchor="end">0.002</text>
<text x="128.1" y="1571.68" font-family="Liberation Sans" font-size="27" fill="#000000" text-anchor="end">0.0025</text>
<text x="128.1" y="1467.8" font-family="Liberation Sans" font-size="27" fill="#000000" text-anchor="end">0.003</text>
<text x="150.9" y="2122.5" font-family="Liberation Sans" font-size="27" fill="#000000" text-anchor="middle">0</text>
<text x="281.58" y="2122.5" font-family="Liberation Sans" font-size="27" fill="#000000" text-anchor="middle">2</text>
<text x="412.25" y="2122.5" font-family="Liberation Sans" font-size="27" fill="#000000" text-anchor="middle">4</text>
<text x="542.93" y="2122.5" font-family="Liberation Sans" font-size="27" fill="#000000" text-anchor="middle">6</text>
<text x="673.6" y="2122.5" font-family="Liberation Sans" font-size="27" fill="#000000" text-anchor="middle">8</text>
<text x="178.4" y="2162.4" font-family="Liberation Serif" font-size="33" fill="#000000" text-anchor="start">Discharge-averaged heat (MJ m<tspan dy="-12" font-size="21">-3</tspan><tspan dy="12">)</tspan></text>
<text x="25.9" y="1780" font-family="Liberation Serif" font-size="33" fill="#000000" text-anchor="middle" transform="rotate(-90 25.9 1780)">Discharge-averaged buoyancy (m s<tspan dy="-12" font-size="21">-2</tspan><tspan dy="12">)</tspan></text>
<text x="1" y="1476.2" font-family="Liberation Sans" font-size="53" fill="#000000" text-anchor="start">e</text>
<circle cx="326.3" cy="1516.3" r="10.6" fill="#000000" stroke="#000000" stroke-width="1.4"/>
<circle cx="450.5" cy="1718.8" r="10.6" fill="#000000" stroke="#000000" stroke-width="1.4"/>
<circle cx="504.5" cy="1802.9" r="10.6" fill="#000000" stroke="#000000" stroke-width="1.4"/>
<circle cx="526.2" cy="1834.9" r="10.6" fill="#000000" stroke="#000000" stroke-width="1.4"/>
<polyline points="326.3,1516.3 526.2,1834.9" fill="none" stroke="#000000" stroke-width="4.3" stroke-dasharray="0 9.07" stroke-linecap="round" stroke-linejoin="round"/>
<text x="216.8" y="1855.6" font-family="Liberation Sans" font-size="27" fill="#000000" text-anchor="start" font-style="italic">Y = -0.0005X + 0.0041</text>
<line x1="986.42" y1="1452.2" x2="986.42" y2="2081.5" stroke="#787878" stroke-width="2.5" stroke-dasharray="6.8 2.2" stroke-linecap="butt"/>
<line x1="1109.74" y1="1452.2" x2="1109.74" y2="2081.5" stroke="#787878" stroke-width="2.5" stroke-dasharray="6.8 2.2" stroke-linecap="butt"/>
<line x1="1233.06" y1="1452.2" x2="1233.06" y2="2081.5" stroke="#787878" stroke-width="2.5" stroke-dasharray="6.8 2.2" stroke-linecap="butt"/>
<line x1="1356.38" y1="1452.2" x2="1356.38" y2="2081.5" stroke="#787878" stroke-width="2.5" stroke-dasharray="6.8 2.2" stroke-linecap="butt"/>
<line x1="1479.7" y1="1452.2" x2="1479.7" y2="2081.5" stroke="#787878" stroke-width="2.5" stroke-dasharray="6.8 2.2" stroke-linecap="butt"/>
<line x1="863.1" y1="2018.57" x2="1479.7" y2="2018.57" stroke="#787878" stroke-width="2.5" stroke-dasharray="6.8 2.2" stroke-linecap="butt"/>
<line x1="863.1" y1="1955.64" x2="1479.7" y2="1955.64" stroke="#787878" stroke-width="2.5" stroke-dasharray="6.8 2.2" stroke-linecap="butt"/>
<line x1="863.1" y1="1892.71" x2="1479.7" y2="1892.71" stroke="#787878" stroke-width="2.5" stroke-dasharray="6.8 2.2" stroke-linecap="butt"/>
<line x1="863.1" y1="1829.78" x2="1479.7" y2="1829.78" stroke="#787878" stroke-width="2.5" stroke-dasharray="6.8 2.2" stroke-linecap="butt"/>
<line x1="863.1" y1="1766.85" x2="1479.7" y2="1766.85" stroke="#787878" stroke-width="2.5" stroke-dasharray="6.8 2.2" stroke-linecap="butt"/>
<line x1="863.1" y1="1703.92" x2="1479.7" y2="1703.92" stroke="#787878" stroke-width="2.5" stroke-dasharray="6.8 2.2" stroke-linecap="butt"/>
<line x1="863.1" y1="1640.99" x2="1479.7" y2="1640.99" stroke="#787878" stroke-width="2.5" stroke-dasharray="6.8 2.2" stroke-linecap="butt"/>
<line x1="863.1" y1="1578.06" x2="1479.7" y2="1578.06" stroke="#787878" stroke-width="2.5" stroke-dasharray="6.8 2.2" stroke-linecap="butt"/>
<line x1="863.1" y1="1515.13" x2="1479.7" y2="1515.13" stroke="#787878" stroke-width="2.5" stroke-dasharray="6.8 2.2" stroke-linecap="butt"/>
<line x1="863.1" y1="1452.2" x2="1479.7" y2="1452.2" stroke="#787878" stroke-width="2.5" stroke-dasharray="6.8 2.2" stroke-linecap="butt"/>
<line x1="863.1" y1="1451.2" x2="863.1" y2="2082.5" stroke="#000000" stroke-width="2.4" stroke-linecap="butt"/>
<line x1="863.1" y1="2081.5" x2="1480.7" y2="2081.5" stroke="#000000" stroke-width="2.4" stroke-linecap="butt"/>
<line x1="856.6" y1="2081.5" x2="870.6" y2="2081.5" stroke="#000000" stroke-width="2.2" stroke-linecap="butt"/>
<line x1="856.6" y1="2068.91" x2="863.1" y2="2068.91" stroke="#000000" stroke-width="2" stroke-linecap="butt"/>
<line x1="856.6" y1="2056.33" x2="863.1" y2="2056.33" stroke="#000000" stroke-width="2" stroke-linecap="butt"/>
<line x1="856.6" y1="2043.74" x2="863.1" y2="2043.74" stroke="#000000" stroke-width="2" stroke-linecap="butt"/>
<line x1="856.6" y1="2031.16" x2="863.1" y2="2031.16" stroke="#000000" stroke-width="2" stroke-linecap="butt"/>
<line x1="856.6" y1="2018.57" x2="870.6" y2="2018.57" stroke="#000000" stroke-width="2.2" stroke-linecap="butt"/>
<line x1="856.6" y1="2005.98" x2="863.1" y2="2005.98" stroke="#000000" stroke-width="2" stroke-linecap="butt"/>
<line x1="856.6" y1="1993.4" x2="863.1" y2="1993.4" stroke="#000000" stroke-width="2" stroke-linecap="butt"/>
<line x1="856.6" y1="1980.81" x2="863.1" y2="1980.81" stroke="#000000" stroke-width="2" stroke-linecap="butt"/>
<line x1="856.6" y1="1968.23" x2="863.1" y2="1968.23" stroke="#000000" stroke-width="2" stroke-linecap="butt"/>
<line x1="856.6" y1="1955.64" x2="870.6" y2="1955.64" stroke="#000000" stroke-width="2.2" stroke-linecap="butt"/>
<line x1="856.6" y1="1943.05" x2="863.1" y2="1943.05" stroke="#000000" stroke-width="2" stroke-linecap="butt"/>
<line x1="856.6" y1="1930.47" x2="863.1" y2="1930.47" stroke="#000000" stroke-width="2" stroke-linecap="butt"/>
<line x1="856.6" y1="1917.88" x2="863.1" y2="1917.88" stroke="#000000" stroke-width="2" stroke-linecap="butt"/>
<line x1="856.6" y1="1905.3" x2="863.1" y2="1905.3" stroke="#000000" stroke-width="2" stroke-linecap="butt"/>
<line x1="856.6" y1="1892.71" x2="870.6" y2="1892.71" stroke="#000000" stroke-width="2.2" stroke-linecap="butt"/>
<line x1="856.6" y1="1880.12" x2="863.1" y2="1880.12" stroke="#000000" stroke-width="2" stroke-linecap="butt"/>
<line x1="856.6" y1="1867.54" x2="863.1" y2="1867.54" stroke="#000000" stroke-width="2" stroke-linecap="butt"/>
<line x1="856.6" y1="1854.95" x2="863.1" y2="1854.95" stroke="#000000" stroke-width="2" stroke-linecap="butt"/>
<line x1="856.6" y1="1842.37" x2="863.1" y2="1842.37" stroke="#000000" stroke-width="2" stroke-linecap="butt"/>
<line x1="856.6" y1="1829.78" x2="870.6" y2="1829.78" stroke="#000000" stroke-width="2.2" stroke-linecap="butt"/>
<line x1="856.6" y1="1817.19" x2="863.1" y2="1817.19" stroke="#000000" stroke-width="2" stroke-linecap="butt"/>
<line x1="856.6" y1="1804.61" x2="863.1" y2="1804.61" stroke="#000000" stroke-width="2" stroke-linecap="butt"/>
<line x1="856.6" y1="1792.02" x2="863.1" y2="1792.02" stroke="#000000" stroke-width="2" stroke-linecap="butt"/>
<line x1="856.6" y1="1779.44" x2="863.1" y2="1779.44" stroke="#000000" stroke-width="2" stroke-linecap="butt"/>
<line x1="856.6" y1="1766.85" x2="870.6" y2="1766.85" stroke="#000000" stroke-width="2.2" stroke-linecap="butt"/>
<line x1="856.6" y1="1754.26" x2="863.1" y2="1754.26" stroke="#000000" stroke-width="2" stroke-linecap="butt"/>
<line x1="856.6" y1="1741.68" x2="863.1" y2="1741.68" stroke="#000000" stroke-width="2" stroke-linecap="butt"/>
<line x1="856.6" y1="1729.09" x2="863.1" y2="1729.09" stroke="#000000" stroke-width="2" stroke-linecap="butt"/>
<line x1="856.6" y1="1716.51" x2="863.1" y2="1716.51" stroke="#000000" stroke-width="2" stroke-linecap="butt"/>
<line x1="856.6" y1="1703.92" x2="870.6" y2="1703.92" stroke="#000000" stroke-width="2.2" stroke-linecap="butt"/>
<line x1="856.6" y1="1691.33" x2="863.1" y2="1691.33" stroke="#000000" stroke-width="2" stroke-linecap="butt"/>
<line x1="856.6" y1="1678.75" x2="863.1" y2="1678.75" stroke="#000000" stroke-width="2" stroke-linecap="butt"/>
<line x1="856.6" y1="1666.16" x2="863.1" y2="1666.16" stroke="#000000" stroke-width="2" stroke-linecap="butt"/>
<line x1="856.6" y1="1653.58" x2="863.1" y2="1653.58" stroke="#000000" stroke-width="2" stroke-linecap="butt"/>
<line x1="856.6" y1="1640.99" x2="870.6" y2="1640.99" stroke="#000000" stroke-width="2.2" stroke-linecap="butt"/>
<line x1="856.6" y1="1628.4" x2="863.1" y2="1628.4" stroke="#000000" stroke-width="2" stroke-linecap="butt"/>
<line x1="856.6" y1="1615.82" x2="863.1" y2="1615.82" stroke="#000000" stroke-width="2" stroke-linecap="butt"/>
<line x1="856.6" y1="1603.23" x2="863.1" y2="1603.23" stroke="#000000" stroke-width="2" stroke-linecap="butt"/>
<line x1="856.6" y1="1590.65" x2="863.1" y2="1590.65" stroke="#000000" stroke-width="2" stroke-linecap="butt"/>
<line x1="856.6" y1="1578.06" x2="870.6" y2="1578.06" stroke="#000000" stroke-width="2.2" stroke-linecap="butt"/>
<line x1="856.6" y1="1565.47" x2="863.1" y2="1565.47" stroke="#000000" stroke-width="2" stroke-linecap="butt"/>
<line x1="856.6" y1="1552.89" x2="863.1" y2="1552.89" stroke="#000000" stroke-width="2" stroke-linecap="butt"/>
<line x1="856.6" y1="1540.3" x2="863.1" y2="1540.3" stroke="#000000" stroke-width="2" stroke-linecap="butt"/>
<line x1="856.6" y1="1527.72" x2="863.1" y2="1527.72" stroke="#000000" stroke-width="2" stroke-linecap="butt"/>
<line x1="856.6" y1="1515.13" x2="870.6" y2="1515.13" stroke="#000000" stroke-width="2.2" stroke-linecap="butt"/>
<line x1="856.6" y1="1502.54" x2="863.1" y2="1502.54" stroke="#000000" stroke-width="2" stroke-linecap="butt"/>
<line x1="856.6" y1="1489.96" x2="863.1" y2="1489.96" stroke="#000000" stroke-width="2" stroke-linecap="butt"/>
<line x1="856.6" y1="1477.37" x2="863.1" y2="1477.37" stroke="#000000" stroke-width="2" stroke-linecap="butt"/>
<line x1="856.6" y1="1464.79" x2="863.1" y2="1464.79" stroke="#000000" stroke-width="2" stroke-linecap="butt"/>
<line x1="856.6" y1="1452.2" x2="870.6" y2="1452.2" stroke="#000000" stroke-width="2.2" stroke-linecap="butt"/>
<line x1="863.1" y1="2073.5" x2="863.1" y2="2087.5" stroke="#000000" stroke-width="2.2" stroke-linecap="butt"/>
<line x1="887.76" y1="2081.5" x2="887.76" y2="2087.5" stroke="#000000" stroke-width="2" stroke-linecap="butt"/>
<line x1="912.43" y1="2081.5" x2="912.43" y2="2087.5" stroke="#000000" stroke-width="2" stroke-linecap="butt"/>
<line x1="937.09" y1="2081.5" x2="937.09" y2="2087.5" stroke="#000000" stroke-width="2" stroke-linecap="butt"/>
<line x1="961.76" y1="2081.5" x2="961.76" y2="2087.5" stroke="#000000" stroke-width="2" stroke-linecap="butt"/>
<line x1="986.42" y1="2073.5" x2="986.42" y2="2087.5" stroke="#000000" stroke-width="2.2" stroke-linecap="butt"/>
<line x1="1011.08" y1="2081.5" x2="1011.08" y2="2087.5" stroke="#000000" stroke-width="2" stroke-linecap="butt"/>
<line x1="1035.75" y1="2081.5" x2="1035.75" y2="2087.5" stroke="#000000" stroke-width="2" stroke-linecap="butt"/>
<line x1="1060.41" y1="2081.5" x2="1060.41" y2="2087.5" stroke="#000000" stroke-width="2" stroke-linecap="butt"/>
<line x1="1085.08" y1="2081.5" x2="1085.08" y2="2087.5" stroke="#000000" stroke-width="2" stroke-linecap="butt"/>
<line x1="1109.74" y1="2073.5" x2="1109.74" y2="2087.5" stroke="#000000" stroke-width="2.2" stroke-linecap="butt"/>
<line x1="1134.4" y1="2081.5" x2="1134.4" y2="2087.5" stroke="#000000" stroke-width="2" stroke-linecap="butt"/>
<line x1="1159.07" y1="2081.5" x2="1159.07" y2="2087.5" stroke="#000000" stroke-width="2" stroke-linecap="butt"/>
<line x1="1183.73" y1="2081.5" x2="1183.73" y2="2087.5" stroke="#000000" stroke-width="2" stroke-linecap="butt"/>
<line x1="1208.4" y1="2081.5" x2="1208.4" y2="2087.5" stroke="#000000" stroke-width="2" stroke-linecap="butt"/>
<line x1="1233.06" y1="2073.5" x2="1233.06" y2="2087.5" stroke="#000000" stroke-width="2.2" stroke-linecap="butt"/>
<line x1="1257.72" y1="2081.5" x2="1257.72" y2="2087.5" stroke="#000000" stroke-width="2" stroke-linecap="butt"/>
<line x1="1282.39" y1="2081.5" x2="1282.39" y2="2087.5" stroke="#000000" stroke-width="2" stroke-linecap="butt"/>
<line x1="1307.05" y1="2081.5" x2="1307.05" y2="2087.5" stroke="#000000" stroke-width="2" stroke-linecap="butt"/>
<line x1="1331.72" y1="2081.5" x2="1331.72" y2="2087.5" stroke="#000000" stroke-width="2" stroke-linecap="butt"/>
<line x1="1356.38" y1="2073.5" x2="1356.38" y2="2087.5" stroke="#000000" stroke-width="2.2" stroke-linecap="butt"/>
<line x1="1381.04" y1="2081.5" x2="1381.04" y2="2087.5" stroke="#000000" stroke-width="2" stroke-linecap="butt"/>
<line x1="1405.71" y1="2081.5" x2="1405.71" y2="2087.5" stroke="#000000" stroke-width="2" stroke-linecap="butt"/>
<line x1="1430.37" y1="2081.5" x2="1430.37" y2="2087.5" stroke="#000000" stroke-width="2" stroke-linecap="butt"/>
<line x1="1455.04" y1="2081.5" x2="1455.04" y2="2087.5" stroke="#000000" stroke-width="2" stroke-linecap="butt"/>
<line x1="1479.7" y1="2073.5" x2="1479.7" y2="2087.5" stroke="#000000" stroke-width="2.2" stroke-linecap="butt"/>
<text x="840.1" y="2090.2" font-family="Liberation Sans" font-size="27" fill="#000000" text-anchor="end">0</text>
<text x="840.1" y="2027.27" font-family="Liberation Sans" font-size="27" fill="#000000" text-anchor="end">50</text>
<text x="840.1" y="1964.34" font-family="Liberation Sans" font-size="27" fill="#000000" text-anchor="end">100</text>
<text x="840.1" y="1901.41" font-family="Liberation Sans" font-size="27" fill="#000000" text-anchor="end">150</text>
<text x="840.1" y="1838.48" font-family="Liberation Sans" font-size="27" fill="#000000" text-anchor="end">200</text>
<text x="840.1" y="1775.55" font-family="Liberation Sans" font-size="27" fill="#000000" text-anchor="end">250</text>
<text x="840.1" y="1712.62" font-family="Liberation Sans" font-size="27" fill="#000000" text-anchor="end">300</text>
<text x="840.1" y="1649.69" font-family="Liberation Sans" font-size="27" fill="#000000" text-anchor="end">350</text>
<text x="840.1" y="1586.76" font-family="Liberation Sans" font-size="27" fill="#000000" text-anchor="end">400</text>
<text x="840.1" y="1523.83" font-family="Liberation Sans" font-size="27" fill="#000000" text-anchor="end">450</text>
<text x="840.1" y="1460.9" font-family="Liberation Sans" font-size="27" fill="#000000" text-anchor="end">500</text>
<text x="863.1" y="2122.5" font-family="Liberation Sans" font-size="27" fill="#000000" text-anchor="middle">0</text>
<text x="986.42" y="2122.5" font-family="Liberation Sans" font-size="27" fill="#000000" text-anchor="middle">100</text>
<text x="1109.74" y="2122.5" font-family="Liberation Sans" font-size="27" fill="#000000" text-anchor="middle">200</text>
<text x="1233.06" y="2122.5" font-family="Liberation Sans" font-size="27" fill="#000000" text-anchor="middle">300</text>
<text x="1356.38" y="2122.5" font-family="Liberation Sans" font-size="27" fill="#000000" text-anchor="middle">400</text>
<text x="1479.7" y="2122.5" font-family="Liberation Sans" font-size="27" fill="#000000" text-anchor="middle">500</text>
<text x="915.7" y="2162" font-family="Liberation Serif" font-size="33" fill="#000000" text-anchor="start">Calculated buoyancy discharge (m<tspan dy="-12" font-size="21">4</tspan><tspan dy="12"> s</tspan><tspan dy="-12" font-size="21">-3</tspan><tspan dy="12">)</tspan></text>
<text x="770.2" y="1768" font-family="Liberation Serif" font-size="33" fill="#000000" text-anchor="middle" transform="rotate(-90 770.2 1768)">Simulated buoyancy discharge (m<tspan dy="-12" font-size="21">4</tspan><tspan dy="12"> s</tspan><tspan dy="-12" font-size="21">-3</tspan><tspan dy="12">)</tspan></text>
<text x="737.7" y="1482.1" font-family="Liberation Sans" font-size="54" fill="#000000" text-anchor="start">f</text>
<line x1="863.1" y1="2081.5" x2="1479.7" y2="1452.2" stroke="#000000" stroke-width="2.7" stroke-dasharray="10 10.7" stroke-linecap="butt"/>
<circle cx="986.7" cy="1932.8" r="9.9" fill="none" stroke="#000000" stroke-width="2.3"/>
<circle cx="1054.3" cy="1857.7" r="9.9" fill="none" stroke="#000000" stroke-width="2.3"/>
<circle cx="1094.8" cy="1803.3" r="9.9" fill="none" stroke="#000000" stroke-width="2.3"/>
<circle cx="1095.5" cy="1810.8" r="9.9" fill="none" stroke="#000000" stroke-width="2.3"/>
<circle cx="1118.9" cy="1803.3" r="9.9" fill="none" stroke="#000000" stroke-width="2.3"/>
<circle cx="1196.8" cy="1709.4" r="9.9" fill="none" stroke="#000000" stroke-width="2.3"/>
<circle cx="1203.2" cy="1700.3" r="9.9" fill="none" stroke="#000000" stroke-width="2.3"/>
<circle cx="1246.9" cy="1705.6" r="9.9" fill="none" stroke="#000000" stroke-width="2.3"/>
<circle cx="1265.8" cy="1640.8" r="9.9" fill="none" stroke="#000000" stroke-width="2.3"/>
<circle cx="1339.2" cy="1641.7" r="9.9" fill="none" stroke="#000000" stroke-width="2.3"/>
<circle cx="1398" cy="1628" r="9.9" fill="none" stroke="#000000" stroke-width="2.3"/>
<circle cx="1413.3" cy="1519.7" r="9.9" fill="none" stroke="#000000" stroke-width="2.3"/>
<text x="908.4" y="1531.7" font-family="Liberation Sans" font-size="27" fill="#000000" text-anchor="start" font-style="italic">(-32.87H<tspan dy="-8.8" font-size="17.5">1.79</tspan><tspan dy="8.8">lnH+220.19H</tspan><tspan dy="-8.8" font-size="17.5">1.79</tspan><tspan dy="8.8">-</tspan></text>
<text x="910.1" y="1578.5" font-family="Liberation Sans" font-size="27" fill="#000000" text-anchor="start" font-style="italic">3.33H<tspan dy="-8.8" font-size="17.5">0.79</tspan><tspan dy="8.8">WlnH+22.32H</tspan><tspan dy="-8.8" font-size="17.5">0.79</tspan><tspan dy="8.8">W)×</tspan></text>
<text x="911" y="1627.9" font-family="Liberation Sans" font-size="27" fill="#000000" text-anchor="start" font-style="italic">10<tspan dy="-8.8" font-size="17.5">-4</tspan><tspan dy="8.8"> (m</tspan><tspan dy="-8.8" font-size="17.5">4</tspan><tspan dy="8.8"> s</tspan><tspan dy="-8.8" font-size="17.5">-3</tspan><tspan dy="8.8">)</tspan></text>
</svg></body></html>
